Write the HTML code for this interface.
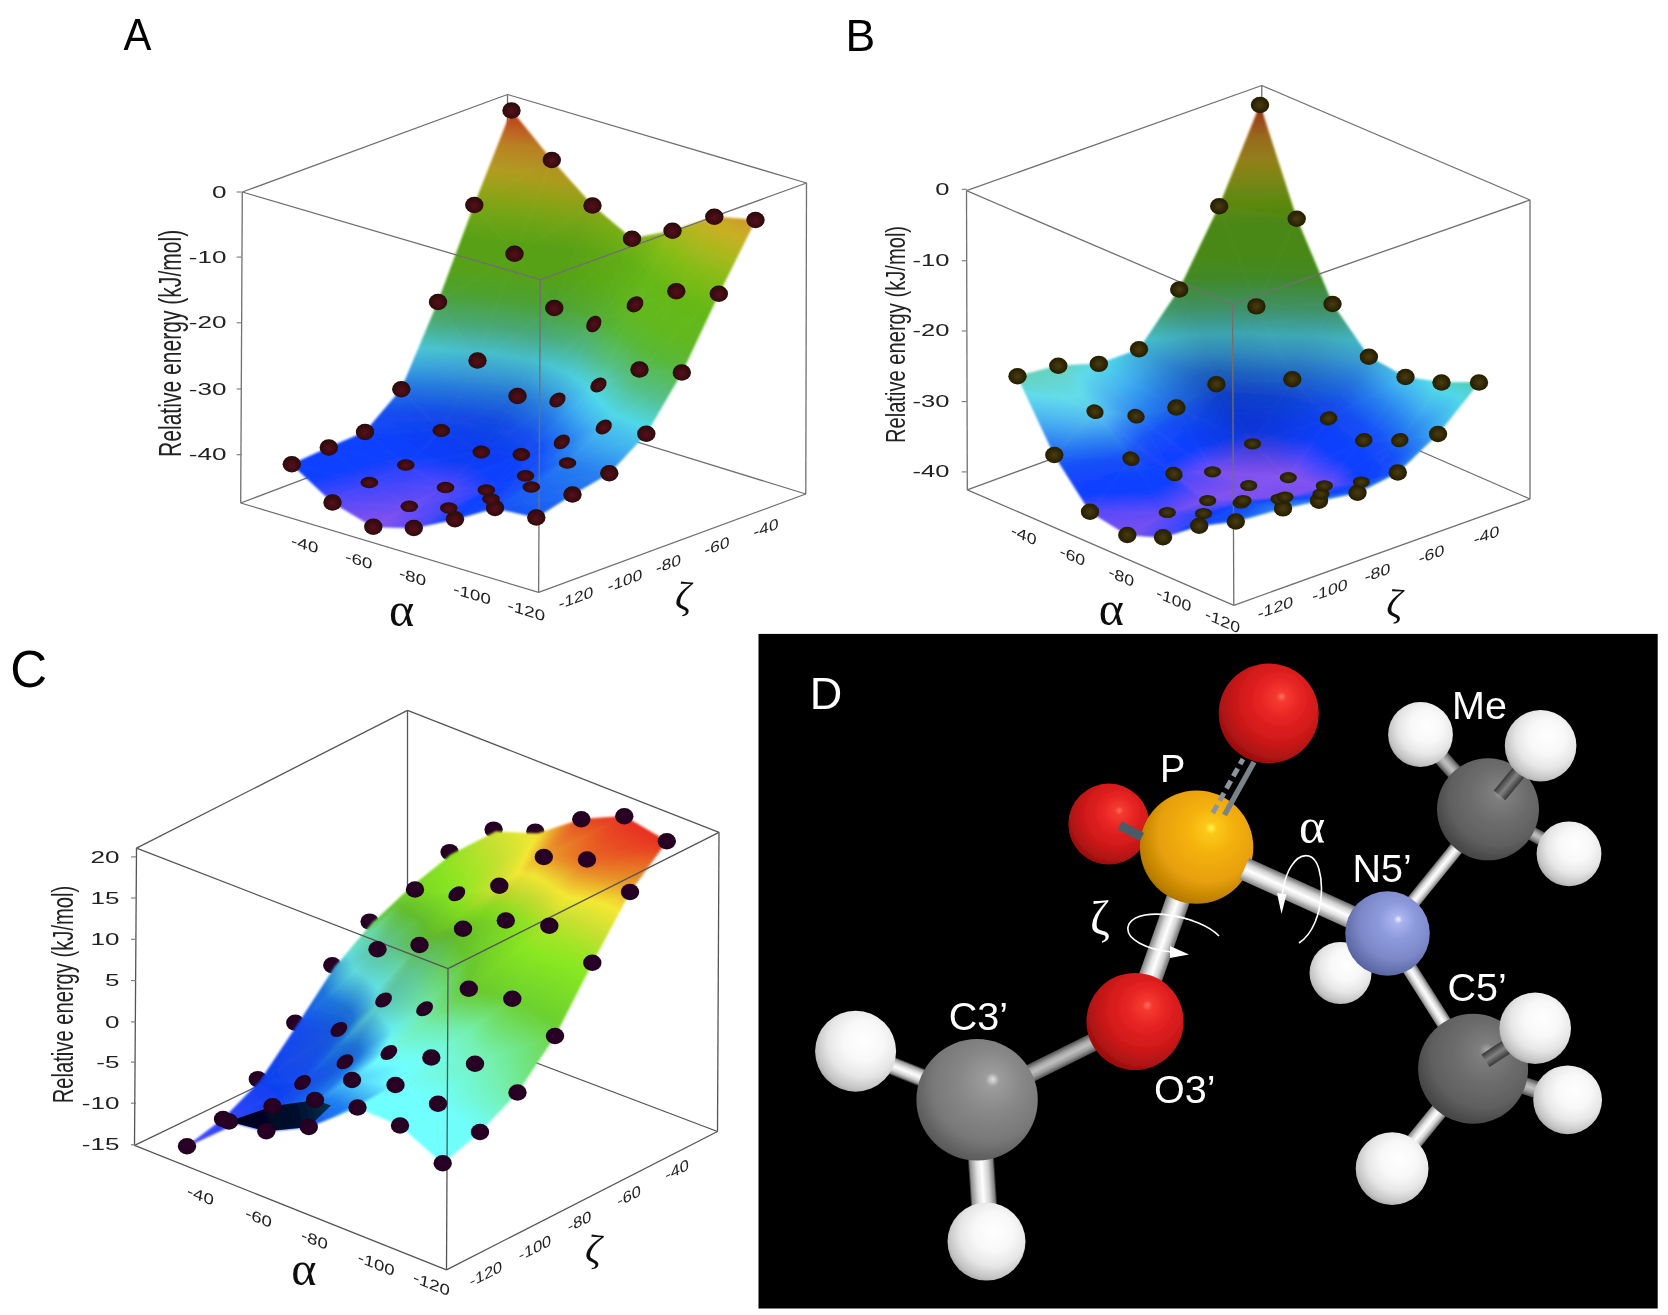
<!DOCTYPE html>
<html><head><meta charset="utf-8"><title>Figure</title>
<style>html,body{margin:0;padding:0;background:#fff}svg{display:block}</style></head><body>
<svg width="1668" height="1315" viewBox="0 0 1668 1315" font-family="&quot;Liberation Sans&quot;, sans-serif">
<defs>
<filter id="bl" x="-5%" y="-5%" width="110%" height="110%"><feGaussianBlur stdDeviation="1.0"/></filter>
<filter id="bl2" x="-5%" y="-5%" width="110%" height="110%"><feGaussianBlur stdDeviation="0.6"/></filter>
<filter id="bl3" x="-5%" y="-5%" width="110%" height="110%"><feGaussianBlur stdDeviation="0.9"/></filter>
<linearGradient id="stL"><stop offset="0" stop-color="#000" stop-opacity="1"/><stop offset="0.5" stop-color="#000" stop-opacity="0"/><stop offset="0.5" stop-color="#fff" stop-opacity="0"/><stop offset="1" stop-color="#fff" stop-opacity="1"/></linearGradient>
<radialGradient id="dA" cx="50%" cy="55%" r="60%"><stop offset="0" stop-color="#5a0a1e"/><stop offset="0.55" stop-color="#3a0810"/><stop offset="1" stop-color="#240606"/></radialGradient>
<radialGradient id="dB" cx="50%" cy="50%" r="60%"><stop offset="0" stop-color="#4a3c08"/><stop offset="0.6" stop-color="#2e2606"/><stop offset="1" stop-color="#1c1804"/></radialGradient>
<radialGradient id="dC" cx="50%" cy="50%" r="60%"><stop offset="0" stop-color="#2c0428"/><stop offset="1" stop-color="#22021e"/></radialGradient>
</defs>
<rect width="1668" height="1315" fill="#fff"/>
<g id="panelA">
<g filter="url(#bl2)"><line x1="242.3" y1="192.0" x2="507.5" y2="94.5" stroke="#707070" stroke-width="1.3"/>
<line x1="507.5" y1="94.5" x2="806.5" y2="183.0" stroke="#707070" stroke-width="1.3"/>
<line x1="507.5" y1="94.5" x2="507.5" y2="402.0" stroke="#707070" stroke-width="1.3"/>
<line x1="240.7" y1="503.0" x2="507.5" y2="402.0" stroke="#707070" stroke-width="1.3"/>
<line x1="507.5" y1="402.0" x2="805.8" y2="494.0" stroke="#707070" stroke-width="1.3"/>
<line x1="242.3" y1="192.0" x2="240.7" y2="503.0" stroke="#707070" stroke-width="1.3"/>
<line x1="806.5" y1="183.0" x2="805.8" y2="494.0" stroke="#707070" stroke-width="1.3"/></g>
<g filter="url(#bl)" stroke-width="0.7"><defs><linearGradient id="stA"><stop offset="0.0000" stop-color="#9058f0"/><stop offset="0.0350" stop-color="#7c50f0"/><stop offset="0.0750" stop-color="#4446fc"/><stop offset="0.1100" stop-color="#1040ff"/><stop offset="0.1400" stop-color="#1040ff"/><stop offset="0.2000" stop-color="#1450f8"/><stop offset="0.2600" stop-color="#2880f0"/><stop offset="0.3100" stop-color="#40b0f0"/><stop offset="0.3600" stop-color="#50d8e8"/><stop offset="0.4300" stop-color="#54c088"/><stop offset="0.5100" stop-color="#58b838"/><stop offset="0.5800" stop-color="#62b81c"/><stop offset="0.6600" stop-color="#66b818"/><stop offset="0.7300" stop-color="#84bc18"/><stop offset="0.7900" stop-color="#aab81c"/><stop offset="0.8400" stop-color="#c8b024"/><stop offset="0.9100" stop-color="#d09028"/><stop offset="1.0000" stop-color="#d83c20"/></linearGradient></defs><defs><linearGradient id="g1" href="#stA" gradientUnits="userSpaceOnUse" x1="481.5" y1="494.8" x2="524.1" y2="111.6"/>
<linearGradient id="g2" href="#stA" gradientUnits="userSpaceOnUse" x1="475.8" y1="493.5" x2="517.7" y2="111.0"/>
<linearGradient id="g3" href="#stA" gradientUnits="userSpaceOnUse" x1="458.6" y1="485.8" x2="495.9" y2="112.8"/>
<linearGradient id="g4" href="#stA" gradientUnits="userSpaceOnUse" x1="447.9" y1="489.2" x2="492.6" y2="108.8"/>
<linearGradient id="g5" href="#stA" gradientUnits="userSpaceOnUse" x1="528.4" y1="495.4" x2="568.3" y2="118.9"/>
<linearGradient id="g6" href="#stA" gradientUnits="userSpaceOnUse" x1="516.8" y1="499.9" x2="564.1" y2="116.0"/>
<linearGradient id="g7" href="#stA" gradientUnits="userSpaceOnUse" x1="430.3" y1="495.7" x2="469.4" y2="85.7"/>
<linearGradient id="g8" href="#stA" gradientUnits="userSpaceOnUse" x1="430.1" y1="487.9" x2="454.8" y2="103.0"/>
<linearGradient id="g9" href="#stA" gradientUnits="userSpaceOnUse" x1="493.2" y1="498.5" x2="556.4" y2="107.5"/>
<linearGradient id="g10" href="#stA" gradientUnits="userSpaceOnUse" x1="494.7" y1="490.2" x2="537.1" y2="116.6"/>
<linearGradient id="g11" href="#stA" gradientUnits="userSpaceOnUse" x1="529.4" y1="513.9" x2="642.2" y2="119.6"/>
<linearGradient id="g12" href="#stA" gradientUnits="userSpaceOnUse" x1="544.6" y1="502.2" x2="617.4" y2="123.6"/>
<linearGradient id="g13" href="#stA" gradientUnits="userSpaceOnUse" x1="404.8" y1="513.9" x2="399.1" y2="-4.5"/>
<linearGradient id="g14" href="#stA" gradientUnits="userSpaceOnUse" x1="403.6" y1="504.8" x2="398.0" y2="43.5"/>
<linearGradient id="g15" href="#stA" gradientUnits="userSpaceOnUse" x1="463.0" y1="510.8" x2="554.9" y2="55.0"/>
<linearGradient id="g16" href="#stA" gradientUnits="userSpaceOnUse" x1="465.4" y1="500.8" x2="517.9" y2="87.3"/>
<linearGradient id="g17" href="#stA" gradientUnits="userSpaceOnUse" x1="499.7" y1="511.4" x2="661.9" y2="115.2"/>
<linearGradient id="g18" href="#stA" gradientUnits="userSpaceOnUse" x1="508.5" y1="505.0" x2="620.3" y2="116.3"/>
<linearGradient id="g19" href="#stA" gradientUnits="userSpaceOnUse" x1="455.6" y1="475.6" x2="743.6" y2="169.8"/>
<linearGradient id="g20" href="#stA" gradientUnits="userSpaceOnUse" x1="500.6" y1="502.8" x2="700.8" y2="141.8"/>
<linearGradient id="g21" href="#stA" gradientUnits="userSpaceOnUse" x1="385.3" y1="531.1" x2="227.0" y2="-71.7"/>
<linearGradient id="g22" href="#stA" gradientUnits="userSpaceOnUse" x1="393.7" y1="535.5" x2="192.8" y2="-110.1"/>
<linearGradient id="g23" href="#stA" gradientUnits="userSpaceOnUse" x1="438.1" y1="522.6" x2="501.6" y2="-43.5"/>
<linearGradient id="g24" href="#stA" gradientUnits="userSpaceOnUse" x1="433.8" y1="523.9" x2="503.6" y2="-56.9"/>
<linearGradient id="g25" href="#stA" gradientUnits="userSpaceOnUse" x1="475.3" y1="523.5" x2="703.9" y2="73.5"/>
<linearGradient id="g26" href="#stA" gradientUnits="userSpaceOnUse" x1="470.9" y1="519.0" x2="679.5" y2="70.3"/>
<linearGradient id="g27" href="#stA" gradientUnits="userSpaceOnUse" x1="498.2" y1="505.4" x2="733.4" y2="166.6"/>
<linearGradient id="g28" href="#stA" gradientUnits="userSpaceOnUse" x1="471.7" y1="485.2" x2="742.7" y2="173.2"/>
<linearGradient id="g29" href="#stA" gradientUnits="userSpaceOnUse" x1="497.5" y1="518.7" x2="748.8" y2="168.1"/>
<linearGradient id="g30" href="#stA" gradientUnits="userSpaceOnUse" x1="483.9" y1="509.3" x2="739.6" y2="161.3"/>
<linearGradient id="g31" href="#stA" gradientUnits="userSpaceOnUse" x1="343.1" y1="536.3" x2="218.7" y2="-20.5"/>
<linearGradient id="g32" href="#stA" gradientUnits="userSpaceOnUse" x1="351.0" y1="541.0" x2="183.5" y2="-64.9"/>
<linearGradient id="g33" href="#stA" gradientUnits="userSpaceOnUse" x1="415.5" y1="544.0" x2="298.5" y2="-269.9"/>
<linearGradient id="g34" href="#stA" gradientUnits="userSpaceOnUse" x1="418.9" y1="550.1" x2="267.7" y2="-350.9"/>
<linearGradient id="g35" href="#stA" gradientUnits="userSpaceOnUse" x1="438.3" y1="538.4" x2="869.8" y2="-34.0"/>
<linearGradient id="g36" href="#stA" gradientUnits="userSpaceOnUse" x1="429.0" y1="532.6" x2="879.4" y2="-36.9"/>
<linearGradient id="g37" href="#stA" gradientUnits="userSpaceOnUse" x1="468.4" y1="513.2" x2="820.9" y2="183.9"/>
<linearGradient id="g38" href="#stA" gradientUnits="userSpaceOnUse" x1="453.2" y1="494.7" x2="834.4" y2="201.3"/>
<linearGradient id="g39" href="#stA" gradientUnits="userSpaceOnUse" x1="513.4" y1="518.4" x2="760.3" y2="182.2"/>
<linearGradient id="g40" href="#stA" gradientUnits="userSpaceOnUse" x1="513.9" y1="517.3" x2="738.6" y2="168.6"/>
<linearGradient id="g41" href="#stA" gradientUnits="userSpaceOnUse" x1="594.0" y1="571.5" x2="756.9" y2="169.6"/>
<linearGradient id="g42" href="#stA" gradientUnits="userSpaceOnUse" x1="581.7" y1="567.4" x2="747.2" y2="165.3"/>
<linearGradient id="g43" href="#stA" gradientUnits="userSpaceOnUse" x1="375.2" y1="545.6" x2="295.2" y2="-215.6"/>
<linearGradient id="g44" href="#stA" gradientUnits="userSpaceOnUse" x1="375.8" y1="546.7" x2="289.9" y2="-236.3"/>
<linearGradient id="g45" href="#stA" gradientUnits="userSpaceOnUse" x1="409.3" y1="456.9" x2="936.7" y2="1060.9"/>
<linearGradient id="g46" href="#stA" gradientUnits="userSpaceOnUse" x1="388.0" y1="450.6" x2="1259.1" y2="1100.0"/>
<linearGradient id="g47" href="#stA" gradientUnits="userSpaceOnUse" x1="457.5" y1="450.8" x2="848.1" y2="558.0"/>
<linearGradient id="g48" href="#stA" gradientUnits="userSpaceOnUse" x1="437.8" y1="462.8" x2="949.6" y2="458.7"/>
<linearGradient id="g49" href="#stA" gradientUnits="userSpaceOnUse" x1="482.6" y1="525.2" x2="826.9" y2="200.0"/>
<linearGradient id="g50" href="#stA" gradientUnits="userSpaceOnUse" x1="466.7" y1="506.4" x2="834.2" y2="209.6"/>
<linearGradient id="g51" href="#stA" gradientUnits="userSpaceOnUse" x1="594.2" y1="564.0" x2="748.9" y2="169.8"/>
<linearGradient id="g52" href="#stA" gradientUnits="userSpaceOnUse" x1="582.3" y1="559.8" x2="738.8" y2="165.5"/>
<linearGradient id="g53" href="#stA" gradientUnits="userSpaceOnUse" x1="364.3" y1="493.2" x2="1228.6" y2="997.2"/>
<linearGradient id="g54" href="#stA" gradientUnits="userSpaceOnUse" x1="362.5" y1="489.8" x2="1312.9" y2="963.7"/>
<linearGradient id="g55" href="#stA" gradientUnits="userSpaceOnUse" x1="446.5" y1="460.1" x2="755.6" y2="712.3"/>
<linearGradient id="g56" href="#stA" gradientUnits="userSpaceOnUse" x1="483.7" y1="485.0" x2="510.4" y2="537.9"/>
<linearGradient id="g57" href="#stA" gradientUnits="userSpaceOnUse" x1="429.9" y1="460.1" x2="962.3" y2="441.0"/>
<linearGradient id="g58" href="#stA" gradientUnits="userSpaceOnUse" x1="455.8" y1="425.1" x2="887.8" y2="517.6"/>
<linearGradient id="g59" href="#stA" gradientUnits="userSpaceOnUse" x1="581.1" y1="581.4" x2="742.1" y2="145.3"/>
<linearGradient id="g60" href="#stA" gradientUnits="userSpaceOnUse" x1="556.5" y1="580.4" x2="754.4" y2="137.4"/>
<linearGradient id="g61" href="#stA" gradientUnits="userSpaceOnUse" x1="434.9" y1="491.4" x2="599.4" y2="706.8"/>
<linearGradient id="g62" href="#stA" gradientUnits="userSpaceOnUse" x1="435.0" y1="490.7" x2="603.5" y2="708.9"/>
<linearGradient id="g63" href="#stA" gradientUnits="userSpaceOnUse" x1="491.9" y1="444.6" x2="672.8" y2="627.3"/>
<linearGradient id="g64" href="#stA" gradientUnits="userSpaceOnUse" x1="492.9" y1="443.8" x2="673.1" y2="626.1"/>
<linearGradient id="g65" href="#stA" gradientUnits="userSpaceOnUse" x1="549.0" y1="622.8" x2="751.5" y2="49.5"/>
<linearGradient id="g66" href="#stA" gradientUnits="userSpaceOnUse" x1="514.0" y1="632.7" x2="809.5" y2="16.9"/>
<linearGradient id="g67" href="#stA" gradientUnits="userSpaceOnUse" x1="472.6" y1="475.9" x2="587.2" y2="632.3"/>
<linearGradient id="g68" href="#stA" gradientUnits="userSpaceOnUse" x1="476.9" y1="478.9" x2="570.1" y2="615.8"/>
<linearGradient id="g69" href="#stA" gradientUnits="userSpaceOnUse" x1="235.6" y1="750.6" x2="1612.1" y2="-339.7"/>
<linearGradient id="g70" href="#stA" gradientUnits="userSpaceOnUse" x1="454.4" y1="729.6" x2="915.4" y2="-293.9"/>
<linearGradient id="g71" href="#stA" gradientUnits="userSpaceOnUse" x1="397.2" y1="749.4" x2="1027.4" y2="-363.7"/>
<linearGradient id="g72" href="#stA" gradientUnits="userSpaceOnUse" x1="217.8" y1="738.7" x2="1632.9" y2="-349.1"/></defs>
<path d="M474.3 205.0L514.5 253.8L551.8 160.0z" fill="url(#g1)" stroke="url(#g1)"/>
<path d="M474.3 205.0L551.8 160.0L511.5 110.5z" fill="url(#g2)" stroke="url(#g2)"/>
<path d="M438.0 302.0L477.5 360.5L514.5 253.8z" fill="url(#g3)" stroke="url(#g3)"/>
<path d="M438.0 302.0L514.5 253.8L474.3 205.0z" fill="url(#g4)" stroke="url(#g4)"/>
<path d="M514.5 253.8L554.3 308.0L592.5 205.5z" fill="url(#g5)" stroke="url(#g5)"/>
<path d="M514.5 253.8L592.5 205.5L551.8 160.0z" fill="url(#g6)" stroke="url(#g6)"/>
<path d="M401.3 389.3L441.3 430.5L477.5 360.5z" fill="url(#g7)" stroke="url(#g7)"/>
<path d="M401.3 389.3L477.5 360.5L438.0 302.0z" fill="url(#g8)" stroke="url(#g8)"/>
<path d="M477.5 360.5L517.5 396.0L554.3 308.0z" fill="url(#g9)" stroke="url(#g9)"/>
<path d="M477.5 360.5L554.3 308.0L514.5 253.8z" fill="url(#g10)" stroke="url(#g10)"/>
<path d="M554.3 308.0L593.8 324.0L632.0 238.8z" fill="url(#g11)" stroke="url(#g11)"/>
<path d="M554.3 308.0L632.0 238.8L592.5 205.5z" fill="url(#g12)" stroke="url(#g12)"/>
<path d="M365.0 432.0L405.8 465.0L441.3 430.5z" fill="url(#g13)" stroke="url(#g13)"/>
<path d="M365.0 432.0L441.3 430.5L401.3 389.3z" fill="url(#g14)" stroke="url(#g14)"/>
<path d="M441.3 430.5L481.3 452.0L517.5 396.0z" fill="url(#g15)" stroke="url(#g15)"/>
<path d="M441.3 430.5L517.5 396.0L477.5 360.5z" fill="url(#g16)" stroke="url(#g16)"/>
<path d="M517.5 396.0L557.5 400.0L593.8 324.0z" fill="url(#g17)" stroke="url(#g17)"/>
<path d="M517.5 396.0L593.8 324.0L554.3 308.0z" fill="url(#g18)" stroke="url(#g18)"/>
<path d="M593.8 324.0L635.0 304.3L672.5 230.8z" fill="url(#g19)" stroke="url(#g19)"/>
<path d="M593.8 324.0L672.5 230.8L632.0 238.8z" fill="url(#g20)" stroke="url(#g20)"/>
<path d="M328.8 447.5L369.3 482.5L405.8 465.0z" fill="url(#g21)" stroke="url(#g21)"/>
<path d="M328.8 447.5L405.8 465.0L365.0 432.0z" fill="url(#g22)" stroke="url(#g22)"/>
<path d="M405.8 465.0L445.5 487.5L481.3 452.0z" fill="url(#g23)" stroke="url(#g23)"/>
<path d="M405.8 465.0L481.3 452.0L441.3 430.5z" fill="url(#g24)" stroke="url(#g24)"/>
<path d="M481.3 452.0L521.3 454.5L557.5 400.0z" fill="url(#g25)" stroke="url(#g25)"/>
<path d="M481.3 452.0L557.5 400.0L517.5 396.0z" fill="url(#g26)" stroke="url(#g26)"/>
<path d="M557.5 400.0L598.5 385.0L635.0 304.3z" fill="url(#g27)" stroke="url(#g27)"/>
<path d="M557.5 400.0L635.0 304.3L593.8 324.0z" fill="url(#g28)" stroke="url(#g28)"/>
<path d="M635.0 304.3L676.3 291.3L714.3 216.8z" fill="url(#g29)" stroke="url(#g29)"/>
<path d="M635.0 304.3L714.3 216.8L672.5 230.8z" fill="url(#g30)" stroke="url(#g30)"/>
<path d="M291.8 464.3L332.5 502.5L369.3 482.5z" fill="url(#g31)" stroke="url(#g31)"/>
<path d="M291.8 464.3L369.3 482.5L328.8 447.5z" fill="url(#g32)" stroke="url(#g32)"/>
<path d="M369.3 482.5L409.3 506.3L445.5 487.5z" fill="url(#g33)" stroke="url(#g33)"/>
<path d="M369.3 482.5L445.5 487.5L405.8 465.0z" fill="url(#g34)" stroke="url(#g34)"/>
<path d="M445.5 487.5L486.3 490.0L521.3 454.5z" fill="url(#g35)" stroke="url(#g35)"/>
<path d="M445.5 487.5L521.3 454.5L481.3 452.0z" fill="url(#g36)" stroke="url(#g36)"/>
<path d="M521.3 454.5L561.8 441.8L598.5 385.0z" fill="url(#g37)" stroke="url(#g37)"/>
<path d="M521.3 454.5L598.5 385.0L557.5 400.0z" fill="url(#g38)" stroke="url(#g38)"/>
<path d="M598.5 385.0L639.5 369.5L676.3 291.3z" fill="url(#g39)" stroke="url(#g39)"/>
<path d="M598.5 385.0L676.3 291.3L635.0 304.3z" fill="url(#g40)" stroke="url(#g40)"/>
<path d="M676.3 291.3L718.8 293.8L755.5 220.0z" fill="url(#g41)" stroke="url(#g41)"/>
<path d="M676.3 291.3L755.5 220.0L714.3 216.8z" fill="url(#g42)" stroke="url(#g42)"/>
<path d="M332.5 502.5L373.3 526.8L409.3 506.3z" fill="url(#g43)" stroke="url(#g43)"/>
<path d="M332.5 502.5L409.3 506.3L369.3 482.5z" fill="url(#g44)" stroke="url(#g44)"/>
<path d="M409.3 506.3L448.8 508.0L486.3 490.0z" fill="url(#g45)" stroke="url(#g45)"/>
<path d="M409.3 506.3L486.3 490.0L445.5 487.5z" fill="url(#g46)" stroke="url(#g46)"/>
<path d="M486.3 490.0L525.5 475.8L561.8 441.8z" fill="url(#g47)" stroke="url(#g47)"/>
<path d="M486.3 490.0L561.8 441.8L521.3 454.5z" fill="url(#g48)" stroke="url(#g48)"/>
<path d="M561.8 441.8L603.8 427.0L639.5 369.5z" fill="url(#g49)" stroke="url(#g49)"/>
<path d="M561.8 441.8L639.5 369.5L598.5 385.0z" fill="url(#g50)" stroke="url(#g50)"/>
<path d="M639.5 369.5L681.8 372.5L718.8 293.8z" fill="url(#g51)" stroke="url(#g51)"/>
<path d="M639.5 369.5L718.8 293.8L676.3 291.3z" fill="url(#g52)" stroke="url(#g52)"/>
<path d="M373.3 526.8L413.8 528.0L448.8 508.0z" fill="url(#g53)" stroke="url(#g53)"/>
<path d="M373.3 526.8L448.8 508.0L409.3 506.3z" fill="url(#g54)" stroke="url(#g54)"/>
<path d="M448.8 508.0L491.0 499.0L525.5 475.8z" fill="url(#g55)" stroke="url(#g55)"/>
<path d="M448.8 508.0L525.5 475.8L486.3 490.0z" fill="url(#g56)" stroke="url(#g56)"/>
<path d="M525.5 475.8L567.5 463.0L603.8 427.0z" fill="url(#g57)" stroke="url(#g57)"/>
<path d="M525.5 475.8L603.8 427.0L561.8 441.8z" fill="url(#g58)" stroke="url(#g58)"/>
<path d="M603.8 427.0L646.3 433.8L681.8 372.5z" fill="url(#g59)" stroke="url(#g59)"/>
<path d="M603.8 427.0L681.8 372.5L639.5 369.5z" fill="url(#g60)" stroke="url(#g60)"/>
<path d="M413.8 528.0L455.0 519.3L491.0 499.0z" fill="url(#g61)" stroke="url(#g61)"/>
<path d="M413.8 528.0L491.0 499.0L448.8 508.0z" fill="url(#g62)" stroke="url(#g62)"/>
<path d="M491.0 499.0L531.3 487.0L567.5 463.0z" fill="url(#g63)" stroke="url(#g63)"/>
<path d="M491.0 499.0L567.5 463.0L525.5 475.8z" fill="url(#g64)" stroke="url(#g64)"/>
<path d="M567.5 463.0L609.3 473.3L646.3 433.8z" fill="url(#g65)" stroke="url(#g65)"/>
<path d="M567.5 463.0L646.3 433.8L603.8 427.0z" fill="url(#g66)" stroke="url(#g66)"/>
<path d="M455.0 519.3L495.0 508.0L531.3 487.0z" fill="url(#g67)" stroke="url(#g67)"/>
<path d="M455.0 519.3L531.3 487.0L491.0 499.0z" fill="url(#g68)" stroke="url(#g68)"/>
<path d="M531.3 487.0L572.5 494.5L609.3 473.3z" fill="url(#g69)" stroke="url(#g69)"/>
<path d="M531.3 487.0L609.3 473.3L567.5 463.0z" fill="url(#g70)" stroke="url(#g70)"/>
<path d="M495.0 508.0L536.3 517.5L572.5 494.5z" fill="url(#g71)" stroke="url(#g71)"/>
<path d="M495.0 508.0L572.5 494.5L531.3 487.0z" fill="url(#g72)" stroke="url(#g72)"/>
<defs><linearGradient id="g73" href="#stL" gradientUnits="userSpaceOnUse" x1="1916.0" y1="2575.5" x2="-1249.7" y2="-2876.4"/>
<linearGradient id="g74" href="#stL" gradientUnits="userSpaceOnUse" x1="1262.2" y1="-404.8" x2="-525.1" y2="1330.5"/>
<linearGradient id="g75" href="#stL" gradientUnits="userSpaceOnUse" x1="1424.4" y1="-314.8" x2="-765.5" y2="1163.8"/>
<linearGradient id="g76" href="#stL" gradientUnits="userSpaceOnUse" x1="-2.5" y1="23.1" x2="1292.9" y2="603.9"/>
<linearGradient id="g77" href="#stL" gradientUnits="userSpaceOnUse" x1="-90.8" y1="-4.0" x2="1428.6" y2="562.2"/>
<linearGradient id="g78" href="#stL" gradientUnits="userSpaceOnUse" x1="908.9" y1="-181.7" x2="-121.4" y2="1092.1"/>
<linearGradient id="g79" href="#stL" gradientUnits="userSpaceOnUse" x1="1043.0" y1="-204.5" x2="-291.3" y2="1090.9"/>
<linearGradient id="g80" href="#stL" gradientUnits="userSpaceOnUse" x1="962.5" y1="-471.5" x2="-86.4" y2="1480.0"/>
<linearGradient id="g81" href="#stL" gradientUnits="userSpaceOnUse" x1="1239.3" y1="-461.3" x2="-450.8" y2="1443.0"/>
<linearGradient id="g82" href="#stL" gradientUnits="userSpaceOnUse" x1="33.0" y1="123.4" x2="1170.5" y2="666.7"/>
<linearGradient id="g83" href="#stL" gradientUnits="userSpaceOnUse" x1="-34.5" y1="96.1" x2="1276.0" y2="644.1"/>
<linearGradient id="g84" href="#stL" gradientUnits="userSpaceOnUse" x1="230.1" y1="80.4" x2="1053.9" y2="500.7"/>
<linearGradient id="g85" href="#stL" gradientUnits="userSpaceOnUse" x1="141.0" y1="44.1" x2="1165.5" y2="503.4"/>
<linearGradient id="g86" href="#stL" gradientUnits="userSpaceOnUse" x1="835.1" y1="-221.5" x2="37.4" y2="1186.0"/>
<linearGradient id="g87" href="#stL" gradientUnits="userSpaceOnUse" x1="800.3" y1="-216.0" x2="55.5" y2="1169.7"/>
<linearGradient id="g88" href="#stL" gradientUnits="userSpaceOnUse" x1="80.7" y1="-208.3" x2="1005.6" y2="1147.0"/>
<linearGradient id="g89" href="#stL" gradientUnits="userSpaceOnUse" x1="295.3" y1="88.6" x2="781.1" y2="800.4"/>
<linearGradient id="g90" href="#stL" gradientUnits="userSpaceOnUse" x1="133.1" y1="153.3" x2="1079.9" y2="581.5"/>
<linearGradient id="g91" href="#stL" gradientUnits="userSpaceOnUse" x1="181.3" y1="144.9" x2="1044.1" y2="557.1"/>
<linearGradient id="g92" href="#stL" gradientUnits="userSpaceOnUse" x1="560.2" y1="-760.3" x2="407.0" y2="1740.0"/>
<linearGradient id="g93" href="#stL" gradientUnits="userSpaceOnUse" x1="378.9" y1="70.5" x2="592.9" y2="883.2"/>
<linearGradient id="g94" href="#stL" gradientUnits="userSpaceOnUse" x1="-191.3" y1="-58.7" x2="1327.6" y2="922.7"/>
<linearGradient id="g95" href="#stL" gradientUnits="userSpaceOnUse" x1="318.9" y1="193.5" x2="814.1" y2="646.4"/>
<linearGradient id="g96" href="#stL" gradientUnits="userSpaceOnUse" x1="326.2" y1="153.7" x2="724.0" y2="776.8"/></defs>
<path d="M474.3 205.0L514.5 253.8L551.8 160.0z" fill="#000" fill-opacity="0.120" stroke="none"/>
<path d="M474.3 205.0L551.8 160.0L511.5 110.5z" fill="url(#g73)" stroke-width="0" stroke="url(#g73)"/>
<path d="M438.0 302.0L477.5 360.5L514.5 253.8z" fill="#000" fill-opacity="0.120" stroke="none"/>
<path d="M438.0 302.0L514.5 253.8L474.3 205.0z" fill="#000" fill-opacity="0.120" stroke="none"/>
<path d="M514.5 253.8L554.3 308.0L592.5 205.5z" fill="#000" fill-opacity="0.120" stroke="none"/>
<path d="M514.5 253.8L592.5 205.5L551.8 160.0z" fill="#000" fill-opacity="0.120" stroke="none"/>
<path d="M401.3 389.3L441.3 430.5L477.5 360.5z" fill="url(#g74)" stroke-width="0" stroke="url(#g74)"/>
<path d="M401.3 389.3L477.5 360.5L438.0 302.0z" fill="url(#g75)" stroke-width="0" stroke="url(#g75)"/>
<path d="M477.5 360.5L517.5 396.0L554.3 308.0z" fill="#000" fill-opacity="0.120" stroke="none"/>
<path d="M477.5 360.5L554.3 308.0L514.5 253.8z" fill="#000" fill-opacity="0.120" stroke="none"/>
<path d="M554.3 308.0L593.8 324.0L632.0 238.8z" fill="url(#g76)" stroke-width="0" stroke="url(#g76)"/>
<path d="M554.3 308.0L632.0 238.8L592.5 205.5z" fill="url(#g77)" stroke-width="0" stroke="url(#g77)"/>
<path d="M365.0 432.0L405.8 465.0L441.3 430.5z" fill="url(#g78)" stroke-width="0" stroke="url(#g78)"/>
<path d="M365.0 432.0L441.3 430.5L401.3 389.3z" fill="url(#g79)" stroke-width="0" stroke="url(#g79)"/>
<path d="M441.3 430.5L481.3 452.0L517.5 396.0z" fill="url(#g80)" stroke-width="0" stroke="url(#g80)"/>
<path d="M441.3 430.5L517.5 396.0L477.5 360.5z" fill="url(#g81)" stroke-width="0" stroke="url(#g81)"/>
<path d="M517.5 396.0L557.5 400.0L593.8 324.0z" fill="url(#g82)" stroke-width="0" stroke="url(#g82)"/>
<path d="M517.5 396.0L593.8 324.0L554.3 308.0z" fill="url(#g83)" stroke-width="0" stroke="url(#g83)"/>
<path d="M593.8 324.0L635.0 304.3L672.5 230.8z" fill="url(#g84)" stroke-width="0" stroke="url(#g84)"/>
<path d="M593.8 324.0L672.5 230.8L632.0 238.8z" fill="url(#g85)" stroke-width="0" stroke="url(#g85)"/>
<path d="M405.8 465.0L445.5 487.5L481.3 452.0z" fill="url(#g86)" stroke-width="0" stroke="url(#g86)"/>
<path d="M405.8 465.0L481.3 452.0L441.3 430.5z" fill="url(#g87)" stroke-width="0" stroke="url(#g87)"/>
<path d="M481.3 452.0L521.3 454.5L557.5 400.0z" fill="url(#g88)" stroke-width="0" stroke="url(#g88)"/>
<path d="M481.3 452.0L557.5 400.0L517.5 396.0z" fill="url(#g89)" stroke-width="0" stroke="url(#g89)"/>
<path d="M557.5 400.0L598.5 385.0L635.0 304.3z" fill="url(#g90)" stroke-width="0" stroke="url(#g90)"/>
<path d="M557.5 400.0L635.0 304.3L593.8 324.0z" fill="url(#g91)" stroke-width="0" stroke="url(#g91)"/>
<path d="M445.5 487.5L486.3 490.0L521.3 454.5z" fill="url(#g92)" stroke-width="0" stroke="url(#g92)"/>
<path d="M445.5 487.5L521.3 454.5L481.3 452.0z" fill="url(#g93)" stroke-width="0" stroke="url(#g93)"/>
<path d="M521.3 454.5L561.8 441.8L598.5 385.0z" fill="url(#g94)" stroke-width="0" stroke="url(#g94)"/>
<path d="M521.3 454.5L598.5 385.0L557.5 400.0z" fill="url(#g95)" stroke-width="0" stroke="url(#g95)"/>
<path d="M486.3 490.0L561.8 441.8L521.3 454.5z" fill="url(#g96)" stroke-width="0" stroke="url(#g96)"/></g>
<g filter="url(#bl2)"><line x1="242.3" y1="192.0" x2="540.3" y2="279.6" stroke="#707070" stroke-width="1.3"/>
<line x1="540.3" y1="279.6" x2="806.5" y2="183.0" stroke="#707070" stroke-width="1.3"/>
<line x1="540.3" y1="279.6" x2="538.6" y2="592.4" stroke="#707070" stroke-width="1.3"/>
<line x1="240.7" y1="503.0" x2="538.6" y2="592.4" stroke="#707070" stroke-width="1.3"/>
<line x1="538.6" y1="592.4" x2="805.8" y2="494.0" stroke="#707070" stroke-width="1.3"/></g>
<g filter="url(#bl2)"><ellipse cx="291.8" cy="464.3" rx="9.2" ry="8.2" fill="url(#dA)"/>
<ellipse cx="332.5" cy="502.5" rx="9.2" ry="8.2" fill="url(#dA)"/>
<ellipse cx="373.3" cy="526.8" rx="9.2" ry="8.2" fill="url(#dA)"/>
<ellipse cx="413.8" cy="528.0" rx="9.2" ry="8.2" fill="url(#dA)"/>
<ellipse cx="455.0" cy="519.3" rx="9.2" ry="8.2" fill="url(#dA)"/>
<ellipse cx="495.0" cy="508.0" rx="9.2" ry="8.2" fill="url(#dA)"/>
<ellipse cx="536.3" cy="517.5" rx="9.2" ry="8.2" fill="url(#dA)"/>
<ellipse cx="328.8" cy="447.5" rx="9.2" ry="8.2" fill="url(#dA)"/>
<ellipse transform="translate(369.3 482.5) rotate(0)" rx="8.8" ry="5.8" fill="url(#dA)"/>
<ellipse transform="translate(409.3 506.3) rotate(0)" rx="8.8" ry="5.8" fill="url(#dA)"/>
<ellipse transform="translate(448.8 508.0) rotate(0)" rx="8.8" ry="5.8" fill="url(#dA)"/>
<ellipse transform="translate(491.0 499.0) rotate(0)" rx="8.8" ry="5.8" fill="url(#dA)"/>
<ellipse transform="translate(531.3 487.0) rotate(0)" rx="8.8" ry="5.8" fill="url(#dA)"/>
<ellipse cx="572.5" cy="494.5" rx="9.2" ry="8.2" fill="url(#dA)"/>
<ellipse cx="365.0" cy="432.0" rx="9.2" ry="8.2" fill="url(#dA)"/>
<ellipse transform="translate(405.8 465.0) rotate(0)" rx="8.8" ry="5.8" fill="url(#dA)"/>
<ellipse transform="translate(445.5 487.5) rotate(0)" rx="8.8" ry="5.8" fill="url(#dA)"/>
<ellipse transform="translate(486.3 490.0) rotate(0)" rx="8.8" ry="5.8" fill="url(#dA)"/>
<ellipse transform="translate(525.5 475.8) rotate(0)" rx="8.8" ry="5.8" fill="url(#dA)"/>
<ellipse transform="translate(567.5 463.0) rotate(0)" rx="8.8" ry="5.8" fill="url(#dA)"/>
<ellipse cx="609.3" cy="473.3" rx="9.2" ry="8.2" fill="url(#dA)"/>
<ellipse cx="401.3" cy="389.3" rx="9.2" ry="8.2" fill="url(#dA)"/>
<ellipse transform="translate(441.3 430.5) rotate(0)" rx="8.8" ry="6.4" fill="url(#dA)"/>
<ellipse transform="translate(481.3 452.0) rotate(0)" rx="8.8" ry="6.4" fill="url(#dA)"/>
<ellipse transform="translate(521.3 454.5) rotate(0)" rx="8.8" ry="6.4" fill="url(#dA)"/>
<ellipse transform="translate(561.8 441.8) rotate(-35)" rx="8.8" ry="6.6" fill="url(#dA)"/>
<ellipse transform="translate(603.8 427.0) rotate(-35)" rx="8.8" ry="6.6" fill="url(#dA)"/>
<ellipse cx="646.3" cy="433.8" rx="9.2" ry="8.2" fill="url(#dA)"/>
<ellipse cx="438.0" cy="302.0" rx="9.2" ry="8.2" fill="url(#dA)"/>
<ellipse cx="477.5" cy="360.5" rx="9.2" ry="8.2" fill="url(#dA)"/>
<ellipse cx="517.5" cy="396.0" rx="9.2" ry="8.2" fill="url(#dA)"/>
<ellipse transform="translate(557.5 400.0) rotate(-35)" rx="8.8" ry="6.6" fill="url(#dA)"/>
<ellipse transform="translate(598.5 385.0) rotate(-35)" rx="8.8" ry="6.6" fill="url(#dA)"/>
<ellipse cx="639.5" cy="369.5" rx="9.2" ry="8.2" fill="url(#dA)"/>
<ellipse cx="681.8" cy="372.5" rx="9.2" ry="8.2" fill="url(#dA)"/>
<ellipse cx="474.3" cy="205.0" rx="9.2" ry="8.2" fill="url(#dA)"/>
<ellipse cx="514.5" cy="253.8" rx="9.2" ry="8.2" fill="url(#dA)"/>
<ellipse cx="554.3" cy="308.0" rx="9.2" ry="8.2" fill="url(#dA)"/>
<ellipse transform="translate(593.8 324.0) rotate(-55)" rx="9" ry="6.8" fill="url(#dA)"/>
<ellipse transform="translate(635.0 304.3) rotate(-40)" rx="9" ry="7.4" fill="url(#dA)"/>
<ellipse cx="676.3" cy="291.3" rx="9.2" ry="8.2" fill="url(#dA)"/>
<ellipse cx="718.8" cy="293.8" rx="9.2" ry="8.2" fill="url(#dA)"/>
<ellipse cx="511.5" cy="110.5" rx="9.2" ry="8.2" fill="url(#dA)"/>
<ellipse cx="551.8" cy="160.0" rx="9.2" ry="8.2" fill="url(#dA)"/>
<ellipse cx="592.5" cy="205.5" rx="9.2" ry="8.2" fill="url(#dA)"/>
<ellipse cx="632.0" cy="238.8" rx="9.2" ry="8.2" fill="url(#dA)"/>
<ellipse cx="672.5" cy="230.8" rx="9.2" ry="8.2" fill="url(#dA)"/>
<ellipse cx="714.3" cy="216.8" rx="9.2" ry="8.2" fill="url(#dA)"/>
<ellipse cx="755.5" cy="220.0" rx="9.2" ry="8.2" fill="url(#dA)"/></g>
</g>
<g id="panelB">
<g filter="url(#bl2)"><line x1="966.5" y1="190.7" x2="1261.8" y2="85.5" stroke="#707070" stroke-width="1.3"/>
<line x1="1261.8" y1="85.5" x2="1530.0" y2="200.0" stroke="#707070" stroke-width="1.3"/>
<line x1="1261.8" y1="85.5" x2="1262.0" y2="382.0" stroke="#707070" stroke-width="1.3"/>
<line x1="967.3" y1="489.8" x2="1262.0" y2="382.0" stroke="#707070" stroke-width="1.3"/>
<line x1="1262.0" y1="382.0" x2="1530.0" y2="499.0" stroke="#707070" stroke-width="1.3"/>
<line x1="966.5" y1="190.7" x2="967.3" y2="489.8" stroke="#707070" stroke-width="1.3"/>
<line x1="1530.0" y1="200.0" x2="1530.0" y2="499.0" stroke="#707070" stroke-width="1.3"/></g>
<g filter="url(#bl)" stroke-width="0.7"><defs><linearGradient id="stB"><stop offset="0.0000" stop-color="#9058f0"/><stop offset="0.0350" stop-color="#7c50f0"/><stop offset="0.0750" stop-color="#4446fc"/><stop offset="0.1100" stop-color="#1040ff"/><stop offset="0.1400" stop-color="#1040ff"/><stop offset="0.2000" stop-color="#1450f8"/><stop offset="0.2600" stop-color="#2880f0"/><stop offset="0.3100" stop-color="#40b0f0"/><stop offset="0.3600" stop-color="#50d8e8"/><stop offset="0.4300" stop-color="#54c088"/><stop offset="0.5100" stop-color="#58b838"/><stop offset="0.5800" stop-color="#62b81c"/><stop offset="0.6600" stop-color="#66b818"/><stop offset="0.7300" stop-color="#84bc18"/><stop offset="0.7900" stop-color="#aab81c"/><stop offset="0.8400" stop-color="#c8b024"/><stop offset="0.9100" stop-color="#d09028"/><stop offset="1.0000" stop-color="#d83c20"/></linearGradient></defs><defs><linearGradient id="g97" href="#stB" gradientUnits="userSpaceOnUse" x1="1260.4" y1="462.6" x2="1255.5" y2="102.0"/>
<linearGradient id="g98" href="#stB" gradientUnits="userSpaceOnUse" x1="1261.2" y1="456.7" x2="1258.0" y2="104.6"/>
<linearGradient id="g99" href="#stB" gradientUnits="userSpaceOnUse" x1="1221.3" y1="466.3" x2="1210.9" y2="99.9"/>
<linearGradient id="g100" href="#stB" gradientUnits="userSpaceOnUse" x1="1223.3" y1="464.2" x2="1214.1" y2="102.2"/>
<linearGradient id="g101" href="#stB" gradientUnits="userSpaceOnUse" x1="1289.9" y1="472.3" x2="1300.2" y2="91.8"/>
<linearGradient id="g102" href="#stB" gradientUnits="userSpaceOnUse" x1="1290.4" y1="466.3" x2="1299.6" y2="99.5"/>
<linearGradient id="g103" href="#stB" gradientUnits="userSpaceOnUse" x1="1277.4" y1="521.1" x2="897.3" y2="-13.1"/>
<linearGradient id="g104" href="#stB" gradientUnits="userSpaceOnUse" x1="1190.0" y1="470.9" x2="1156.1" y2="98.3"/>
<linearGradient id="g105" href="#stB" gradientUnits="userSpaceOnUse" x1="1250.7" y1="475.5" x2="1267.5" y2="75.4"/>
<linearGradient id="g106" href="#stB" gradientUnits="userSpaceOnUse" x1="1250.9" y1="470.5" x2="1264.6" y2="91.9"/>
<linearGradient id="g107" href="#stB" gradientUnits="userSpaceOnUse" x1="1314.3" y1="489.0" x2="1378.3" y2="63.5"/>
<linearGradient id="g108" href="#stB" gradientUnits="userSpaceOnUse" x1="1316.3" y1="479.2" x2="1360.5" y2="86.3"/>
<linearGradient id="g109" href="#stB" gradientUnits="userSpaceOnUse" x1="1260.6" y1="534.5" x2="825.4" y2="46.2"/>
<linearGradient id="g110" href="#stB" gradientUnits="userSpaceOnUse" x1="1268.9" y1="525.6" x2="844.9" y2="32.9"/>
<linearGradient id="g111" href="#stB" gradientUnits="userSpaceOnUse" x1="1225.1" y1="481.6" x2="1126.7" y2="128.7"/>
<linearGradient id="g112" href="#stB" gradientUnits="userSpaceOnUse" x1="1262.9" y1="482.8" x2="994.2" y2="84.4"/>
<linearGradient id="g113" href="#stB" gradientUnits="userSpaceOnUse" x1="1282.5" y1="485.4" x2="1365.1" y2="48.0"/>
<linearGradient id="g114" href="#stB" gradientUnits="userSpaceOnUse" x1="1280.0" y1="482.4" x2="1347.9" y2="63.6"/>
<linearGradient id="g115" href="#stB" gradientUnits="userSpaceOnUse" x1="1301.8" y1="496.8" x2="1585.4" y2="121.2"/>
<linearGradient id="g116" href="#stB" gradientUnits="userSpaceOnUse" x1="1288.8" y1="487.2" x2="1575.4" y2="112.3"/>
<linearGradient id="g117" href="#stB" gradientUnits="userSpaceOnUse" x1="1275.2" y1="382.7" x2="736.2" y2="428.5"/>
<linearGradient id="g118" href="#stB" gradientUnits="userSpaceOnUse" x1="1241.0" y1="552.2" x2="818.7" y2="50.4"/>
<linearGradient id="g119" href="#stB" gradientUnits="userSpaceOnUse" x1="1194.6" y1="495.2" x2="1030.0" y2="163.9"/>
<linearGradient id="g120" href="#stB" gradientUnits="userSpaceOnUse" x1="1206.8" y1="490.0" x2="1025.8" y2="159.1"/>
<linearGradient id="g121" href="#stB" gradientUnits="userSpaceOnUse" x1="1384.4" y1="470.2" x2="-3505.1" y2="765.7"/>
<linearGradient id="g122" href="#stB" gradientUnits="userSpaceOnUse" x1="1252.3" y1="490.8" x2="1226.4" y2="-100.6"/>
<linearGradient id="g123" href="#stB" gradientUnits="userSpaceOnUse" x1="1311.8" y1="497.5" x2="1487.5" y2="114.9"/>
<linearGradient id="g124" href="#stB" gradientUnits="userSpaceOnUse" x1="1291.5" y1="492.0" x2="1584.8" y2="105.7"/>
<linearGradient id="g125" href="#stB" gradientUnits="userSpaceOnUse" x1="1302.8" y1="498.8" x2="1680.3" y2="201.8"/>
<linearGradient id="g126" href="#stB" gradientUnits="userSpaceOnUse" x1="1313.8" y1="505.4" x2="1617.2" y2="148.8"/>
<linearGradient id="g127" href="#stB" gradientUnits="userSpaceOnUse" x1="1041.3" y1="556.0" x2="1085.8" y2="115.5"/>
<linearGradient id="g128" href="#stB" gradientUnits="userSpaceOnUse" x1="1153.6" y1="711.2" x2="897.3" y2="-154.5"/>
<linearGradient id="g129" href="#stB" gradientUnits="userSpaceOnUse" x1="1203.1" y1="477.9" x2="860.2" y2="331.5"/>
<linearGradient id="g130" href="#stB" gradientUnits="userSpaceOnUse" x1="1184.4" y1="501.5" x2="964.7" y2="201.1"/>
<linearGradient id="g131" href="#stB" gradientUnits="userSpaceOnUse" x1="1222.6" y1="518.9" x2="941.0" y2="-209.7"/>
<linearGradient id="g132" href="#stB" gradientUnits="userSpaceOnUse" x1="1220.8" y1="458.1" x2="1024.9" y2="867.5"/>
<linearGradient id="g133" href="#stB" gradientUnits="userSpaceOnUse" x1="1213.5" y1="373.0" x2="3379.2" y2="3853.9"/>
<linearGradient id="g134" href="#stB" gradientUnits="userSpaceOnUse" x1="1285.8" y1="465.9" x2="1330.7" y2="1068.2"/>
<linearGradient id="g135" href="#stB" gradientUnits="userSpaceOnUse" x1="1316.2" y1="503.1" x2="1675.4" y2="237.4"/>
<linearGradient id="g136" href="#stB" gradientUnits="userSpaceOnUse" x1="1316.1" y1="500.9" x2="1628.4" y2="195.4"/>
<linearGradient id="g137" href="#stB" gradientUnits="userSpaceOnUse" x1="1274.7" y1="451.0" x2="1797.8" y2="348.8"/>
<linearGradient id="g138" href="#stB" gradientUnits="userSpaceOnUse" x1="1391.2" y1="554.2" x2="1536.2" y2="102.0"/>
<linearGradient id="g139" href="#stB" gradientUnits="userSpaceOnUse" x1="1097.6" y1="533.1" x2="1062.0" y2="178.1"/>
<linearGradient id="g140" href="#stB" gradientUnits="userSpaceOnUse" x1="1103.0" y1="534.3" x2="1065.4" y2="171.4"/>
<linearGradient id="g141" href="#stB" gradientUnits="userSpaceOnUse" x1="1189.3" y1="526.0" x2="967.2" y2="144.7"/>
<linearGradient id="g142" href="#stB" gradientUnits="userSpaceOnUse" x1="1185.7" y1="465.4" x2="1038.9" y2="587.3"/>
<linearGradient id="g143" href="#stB" gradientUnits="userSpaceOnUse" x1="1245.1" y1="497.3" x2="1247.5" y2="545.6"/>
<linearGradient id="g144" href="#stB" gradientUnits="userSpaceOnUse" x1="1221.7" y1="406.5" x2="2053.4" y2="3282.3"/>
<linearGradient id="g145" href="#stB" gradientUnits="userSpaceOnUse" x1="1319.3" y1="481.4" x2="1357.1" y2="598.4"/>
<linearGradient id="g146" href="#stB" gradientUnits="userSpaceOnUse" x1="1321.9" y1="482.8" x2="1348.2" y2="572.8"/>
<linearGradient id="g147" href="#stB" gradientUnits="userSpaceOnUse" x1="1362.5" y1="439.7" x2="1529.6" y2="545.6"/>
<linearGradient id="g148" href="#stB" gradientUnits="userSpaceOnUse" x1="1325.9" y1="516.6" x2="1666.3" y2="218.7"/>
<linearGradient id="g149" href="#stB" gradientUnits="userSpaceOnUse" x1="1134.6" y1="570.0" x2="1004.8" y2="-450.0"/>
<linearGradient id="g150" href="#stB" gradientUnits="userSpaceOnUse" x1="1131.0" y1="533.3" x2="1115.8" y2="157.4"/>
<linearGradient id="g151" href="#stB" gradientUnits="userSpaceOnUse" x1="1202.3" y1="496.7" x2="1234.9" y2="668.8"/>
<linearGradient id="g152" href="#stB" gradientUnits="userSpaceOnUse" x1="1204.3" y1="495.7" x2="1239.2" y2="678.0"/>
<linearGradient id="g153" href="#stB" gradientUnits="userSpaceOnUse" x1="1280.7" y1="494.6" x2="1284.0" y2="527.9"/>
<linearGradient id="g154" href="#stB" gradientUnits="userSpaceOnUse" x1="1349.0" y1="467.2" x2="1399.3" y2="566.8"/>
<linearGradient id="g155" href="#stB" gradientUnits="userSpaceOnUse" x1="1359.6" y1="481.3" x2="1362.6" y2="491.5"/>
<linearGradient id="g156" href="#stB" gradientUnits="userSpaceOnUse" x1="1100.7" y1="503.9" x2="2071.1" y2="878.4"/>
<linearGradient id="g157" href="#stB" gradientUnits="userSpaceOnUse" x1="1143.9" y1="494.9" x2="1510.0" y2="914.4"/>
<linearGradient id="g158" href="#stB" gradientUnits="userSpaceOnUse" x1="1242.3" y1="511.7" x2="1233.8" y2="462.1"/>
<linearGradient id="g159" href="#stB" gradientUnits="userSpaceOnUse" x1="1239.3" y1="493.9" x2="1265.4" y2="602.8"/>
<linearGradient id="g160" href="#stB" gradientUnits="userSpaceOnUse" x1="1316.3" y1="484.5" x2="1327.0" y2="546.9"/>
<linearGradient id="g161" href="#stB" gradientUnits="userSpaceOnUse" x1="1318.8" y1="492.2" x2="1320.9" y2="511.8"/>
<linearGradient id="g162" href="#stB" gradientUnits="userSpaceOnUse" x1="1194.8" y1="511.4" x2="1241.6" y2="590.9"/>
<linearGradient id="g163" href="#stB" gradientUnits="userSpaceOnUse" x1="1191.0" y1="502.3" x2="1293.4" y2="641.3"/>
<linearGradient id="g164" href="#stB" gradientUnits="userSpaceOnUse" x1="1275.5" y1="473.2" x2="1298.7" y2="604.3"/>
<linearGradient id="g165" href="#stB" gradientUnits="userSpaceOnUse" x1="1279.3" y1="494.9" x2="1281.3" y2="527.0"/>
<linearGradient id="g166" href="#stB" gradientUnits="userSpaceOnUse" x1="1235.3" y1="504.9" x2="1252.8" y2="564.5"/>
<linearGradient id="g167" href="#stB" gradientUnits="userSpaceOnUse" x1="1206.7" y1="462.9" x2="1377.7" y2="708.9"/></defs>
<path d="M1219.2 206.2L1256.4 306.4L1296.7 218.7z" fill="url(#g97)" stroke="url(#g97)"/>
<path d="M1219.2 206.2L1296.7 218.7L1260.0 105.0z" fill="url(#g98)" stroke="url(#g98)"/>
<path d="M1179.2 289.5L1216.4 384.3L1256.4 306.4z" fill="url(#g99)" stroke="url(#g99)"/>
<path d="M1179.2 289.5L1256.4 306.4L1219.2 206.2z" fill="url(#g100)" stroke="url(#g100)"/>
<path d="M1256.4 306.4L1292.3 379.2L1332.5 304.0z" fill="url(#g101)" stroke="url(#g101)"/>
<path d="M1256.4 306.4L1332.5 304.0L1296.7 218.7z" fill="url(#g102)" stroke="url(#g102)"/>
<path d="M1139.0 349.3L1176.4 407.5L1216.4 384.3z" fill="url(#g103)" stroke="url(#g103)"/>
<path d="M1139.0 349.3L1216.4 384.3L1179.2 289.5z" fill="url(#g104)" stroke="url(#g104)"/>
<path d="M1216.4 384.3L1252.5 443.8L1292.3 379.2z" fill="url(#g105)" stroke="url(#g105)"/>
<path d="M1216.4 384.3L1292.3 379.2L1256.4 306.4z" fill="url(#g106)" stroke="url(#g106)"/>
<path d="M1292.3 379.2L1328.6 418.4L1368.9 356.7z" fill="url(#g107)" stroke="url(#g107)"/>
<path d="M1292.3 379.2L1368.9 356.7L1332.5 304.0z" fill="url(#g108)" stroke="url(#g108)"/>
<path d="M1098.8 363.9L1136.0 416.2L1176.4 407.5z" fill="url(#g109)" stroke="url(#g109)"/>
<path d="M1098.8 363.9L1176.4 407.5L1139.0 349.3z" fill="url(#g110)" stroke="url(#g110)"/>
<path d="M1176.4 407.5L1212.5 471.8L1252.5 443.8z" fill="url(#g111)" stroke="url(#g111)"/>
<path d="M1176.4 407.5L1252.5 443.8L1216.4 384.3z" fill="url(#g112)" stroke="url(#g112)"/>
<path d="M1252.5 443.8L1288.3 477.6L1328.6 418.4z" fill="url(#g113)" stroke="url(#g113)"/>
<path d="M1252.5 443.8L1328.6 418.4L1292.3 379.2z" fill="url(#g114)" stroke="url(#g114)"/>
<path d="M1328.6 418.4L1363.7 440.2L1405.5 377.0z" fill="url(#g115)" stroke="url(#g115)"/>
<path d="M1328.6 418.4L1405.5 377.0L1368.9 356.7z" fill="url(#g116)" stroke="url(#g116)"/>
<path d="M1058.3 365.7L1095.0 411.7L1136.0 416.2z" fill="url(#g117)" stroke="url(#g117)"/>
<path d="M1058.3 365.7L1136.0 416.2L1098.8 363.9z" fill="url(#g118)" stroke="url(#g118)"/>
<path d="M1136.0 416.2L1174.0 474.0L1212.5 471.8z" fill="url(#g119)" stroke="url(#g119)"/>
<path d="M1136.0 416.2L1212.5 471.8L1176.4 407.5z" fill="url(#g120)" stroke="url(#g120)"/>
<path d="M1212.5 471.8L1248.7 485.5L1288.3 477.6z" fill="url(#g121)" stroke="url(#g121)"/>
<path d="M1212.5 471.8L1288.3 477.6L1252.5 443.8z" fill="url(#g122)" stroke="url(#g122)"/>
<path d="M1288.3 477.6L1324.3 485.8L1363.7 440.2z" fill="url(#g123)" stroke="url(#g123)"/>
<path d="M1288.3 477.6L1363.7 440.2L1328.6 418.4z" fill="url(#g124)" stroke="url(#g124)"/>
<path d="M1363.7 440.2L1399.8 440.2L1441.5 382.5z" fill="url(#g125)" stroke="url(#g125)"/>
<path d="M1363.7 440.2L1441.5 382.5L1405.5 377.0z" fill="url(#g126)" stroke="url(#g126)"/>
<path d="M1017.5 376.3L1054.3 455.0L1095.0 411.7z" fill="url(#g127)" stroke="url(#g127)"/>
<path d="M1017.5 376.3L1095.0 411.7L1058.3 365.7z" fill="url(#g128)" stroke="url(#g128)"/>
<path d="M1095.0 411.7L1131.0 458.7L1174.0 474.0z" fill="url(#g129)" stroke="url(#g129)"/>
<path d="M1095.0 411.7L1174.0 474.0L1136.0 416.2z" fill="url(#g130)" stroke="url(#g130)"/>
<path d="M1174.0 474.0L1207.7 500.5L1248.7 485.5z" fill="url(#g131)" stroke="url(#g131)"/>
<path d="M1174.0 474.0L1248.7 485.5L1212.5 471.8z" fill="url(#g132)" stroke="url(#g132)"/>
<path d="M1248.7 485.5L1285.0 497.0L1324.3 485.8z" fill="url(#g133)" stroke="url(#g133)"/>
<path d="M1248.7 485.5L1324.3 485.8L1288.3 477.6z" fill="url(#g134)" stroke="url(#g134)"/>
<path d="M1324.3 485.8L1361.3 482.0L1399.8 440.2z" fill="url(#g135)" stroke="url(#g135)"/>
<path d="M1324.3 485.8L1399.8 440.2L1363.7 440.2z" fill="url(#g136)" stroke="url(#g136)"/>
<path d="M1399.8 440.2L1438.0 434.0L1479.0 382.5z" fill="url(#g137)" stroke="url(#g137)"/>
<path d="M1399.8 440.2L1479.0 382.5L1441.5 382.5z" fill="url(#g138)" stroke="url(#g138)"/>
<path d="M1054.3 455.0L1090.0 511.8L1131.0 458.7z" fill="url(#g139)" stroke="url(#g139)"/>
<path d="M1054.3 455.0L1131.0 458.7L1095.0 411.7z" fill="url(#g140)" stroke="url(#g140)"/>
<path d="M1131.0 458.7L1167.3 512.5L1207.7 500.5z" fill="url(#g141)" stroke="url(#g141)"/>
<path d="M1131.0 458.7L1207.7 500.5L1174.0 474.0z" fill="url(#g142)" stroke="url(#g142)"/>
<path d="M1207.7 500.5L1243.0 500.5L1285.0 497.0z" fill="url(#g143)" stroke="url(#g143)"/>
<path d="M1207.7 500.5L1285.0 497.0L1248.7 485.5z" fill="url(#g144)" stroke="url(#g144)"/>
<path d="M1285.0 497.0L1321.0 494.0L1361.3 482.0z" fill="url(#g145)" stroke="url(#g145)"/>
<path d="M1285.0 497.0L1361.3 482.0L1324.3 485.8z" fill="url(#g146)" stroke="url(#g146)"/>
<path d="M1361.3 482.0L1397.8 472.5L1438.0 434.0z" fill="url(#g147)" stroke="url(#g147)"/>
<path d="M1361.3 482.0L1438.0 434.0L1399.8 440.2z" fill="url(#g148)" stroke="url(#g148)"/>
<path d="M1090.0 511.8L1127.3 535.0L1167.3 512.5z" fill="url(#g149)" stroke="url(#g149)"/>
<path d="M1090.0 511.8L1167.3 512.5L1131.0 458.7z" fill="url(#g150)" stroke="url(#g150)"/>
<path d="M1167.3 512.5L1203.5 513.5L1243.0 500.5z" fill="url(#g151)" stroke="url(#g151)"/>
<path d="M1167.3 512.5L1243.0 500.5L1207.7 500.5z" fill="url(#g152)" stroke="url(#g152)"/>
<path d="M1243.0 500.5L1279.0 499.0L1321.0 494.0z" fill="url(#g153)" stroke="url(#g153)"/>
<path d="M1321.0 494.0L1357.5 492.8L1397.8 472.5z" fill="url(#g154)" stroke="url(#g154)"/>
<path d="M1321.0 494.0L1397.8 472.5L1361.3 482.0z" fill="url(#g155)" stroke="url(#g155)"/>
<path d="M1127.3 535.0L1163.0 537.3L1203.5 513.5z" fill="url(#g156)" stroke="url(#g156)"/>
<path d="M1127.3 535.0L1203.5 513.5L1167.3 512.5z" fill="url(#g157)" stroke="url(#g157)"/>
<path d="M1203.5 513.5L1241.0 503.0L1279.0 499.0z" fill="url(#g158)" stroke="url(#g158)"/>
<path d="M1203.5 513.5L1279.0 499.0L1243.0 500.5z" fill="url(#g159)" stroke="url(#g159)"/>
<path d="M1279.0 499.0L1319.0 500.8L1357.5 492.8z" fill="url(#g160)" stroke="url(#g160)"/>
<path d="M1279.0 499.0L1357.5 492.8L1321.0 494.0z" fill="url(#g161)" stroke="url(#g161)"/>
<path d="M1163.0 537.3L1199.2 525.7L1241.0 503.0z" fill="url(#g162)" stroke="url(#g162)"/>
<path d="M1163.0 537.3L1241.0 503.0L1203.5 513.5z" fill="url(#g163)" stroke="url(#g163)"/>
<path d="M1241.0 503.0L1283.0 508.4L1319.0 500.8z" fill="url(#g164)" stroke="url(#g164)"/>
<path d="M1241.0 503.0L1319.0 500.8L1279.0 499.0z" fill="url(#g165)" stroke="url(#g165)"/>
<path d="M1199.2 525.7L1235.8 521.5L1283.0 508.4z" fill="url(#g166)" stroke="url(#g166)"/>
<path d="M1199.2 525.7L1283.0 508.4L1241.0 503.0z" fill="url(#g167)" stroke="url(#g167)"/>
<defs><linearGradient id="g168" href="#stL" gradientUnits="userSpaceOnUse" x1="1802.9" y1="-3138.0" x2="322.0" y2="6043.2"/>
<linearGradient id="g169" href="#stL" gradientUnits="userSpaceOnUse" x1="1675.9" y1="-1768.2" x2="469.1" y2="3744.7"/>
<linearGradient id="g170" href="#stL" gradientUnits="userSpaceOnUse" x1="1933.0" y1="-2997.6" x2="9.9" y2="5787.1"/>
<linearGradient id="g171" href="#stL" gradientUnits="userSpaceOnUse" x1="1268.0" y1="-486.1" x2="1334.6" y2="1624.2"/>
<linearGradient id="g172" href="#stL" gradientUnits="userSpaceOnUse" x1="1194.0" y1="-2932.7" x2="1466.3" y2="5701.6"/>
<linearGradient id="g173" href="#stL" gradientUnits="userSpaceOnUse" x1="1360.3" y1="214.8" x2="941.1" y2="594.0"/>
<linearGradient id="g174" href="#stL" gradientUnits="userSpaceOnUse" x1="1481.2" y1="175.5" x2="733.0" y2="584.2"/>
<linearGradient id="g175" href="#stL" gradientUnits="userSpaceOnUse" x1="885.6" y1="-208.6" x2="1783.4" y2="1281.7"/>
<linearGradient id="g176" href="#stL" gradientUnits="userSpaceOnUse" x1="686.6" y1="-317.5" x2="2137.9" y2="1403.7"/>
<linearGradient id="g177" href="#stL" gradientUnits="userSpaceOnUse" x1="1149.6" y1="104.6" x2="1556.4" y2="736.5"/>
<linearGradient id="g178" href="#stL" gradientUnits="userSpaceOnUse" x1="1083.6" y1="30.4" x2="1690.0" y2="804.8"/>
<linearGradient id="g179" href="#stL" gradientUnits="userSpaceOnUse" x1="1585.2" y1="172.9" x2="688.9" y2="618.8"/>
<linearGradient id="g180" href="#stL" gradientUnits="userSpaceOnUse" x1="1339.4" y1="191.4" x2="919.9" y2="571.0"/>
<linearGradient id="g181" href="#stL" gradientUnits="userSpaceOnUse" x1="1438.1" y1="212.7" x2="957.5" y2="702.0"/>
<linearGradient id="g182" href="#stL" gradientUnits="userSpaceOnUse" x1="1367.3" y1="233.6" x2="1013.3" y2="648.2"/>
<linearGradient id="g183" href="#stL" gradientUnits="userSpaceOnUse" x1="1058.5" y1="210.7" x2="1550.6" y2="712.6"/>
<linearGradient id="g184" href="#stL" gradientUnits="userSpaceOnUse" x1="1047.0" y1="184.4" x2="1601.9" y2="705.8"/>
<linearGradient id="g185" href="#stL" gradientUnits="userSpaceOnUse" x1="516.2" y1="-150.1" x2="2238.6" y2="989.1"/>
<linearGradient id="g186" href="#stL" gradientUnits="userSpaceOnUse" x1="1188.0" y1="142.7" x2="1567.6" y2="652.6"/>
<linearGradient id="g187" href="#stL" gradientUnits="userSpaceOnUse" x1="1480.6" y1="171.4" x2="769.1" y2="590.8"/>
<linearGradient id="g188" href="#stL" gradientUnits="userSpaceOnUse" x1="1532.1" y1="159.0" x2="712.5" y2="579.7"/>
<linearGradient id="g189" href="#stL" gradientUnits="userSpaceOnUse" x1="1346.1" y1="3462.7" x2="1004.5" y2="-2514.9"/>
<linearGradient id="g190" href="#stL" gradientUnits="userSpaceOnUse" x1="1442.8" y1="124.0" x2="899.9" y2="748.0"/>
<linearGradient id="g191" href="#stL" gradientUnits="userSpaceOnUse" x1="1267.2" y1="254.1" x2="1233.4" y2="695.3"/>
<linearGradient id="g192" href="#stL" gradientUnits="userSpaceOnUse" x1="941.8" y1="-330.8" x2="1722.3" y2="1242.6"/>
<linearGradient id="g193" href="#stL" gradientUnits="userSpaceOnUse" x1="863.7" y1="1099.1" x2="1219.1" y2="-169.0"/>
<linearGradient id="g194" href="#stL" gradientUnits="userSpaceOnUse" x1="1809.3" y1="3280.5" x2="457.7" y2="-1921.8"/>
<linearGradient id="g195" href="#stL" gradientUnits="userSpaceOnUse" x1="1021.7" y1="761.7" x2="1237.7" y2="154.8"/>
<linearGradient id="g196" href="#stL" gradientUnits="userSpaceOnUse" x1="1541.8" y1="234.8" x2="759.5" y2="617.8"/>
<linearGradient id="g197" href="#stL" gradientUnits="userSpaceOnUse" x1="3600.5" y1="2412.2" x2="-1383.7" y2="-1436.2"/>
<linearGradient id="g198" href="#stL" gradientUnits="userSpaceOnUse" x1="1135.8" y1="957.8" x2="1054.4" y2="-34.5"/></defs>
<path d="M1219.2 206.2L1256.4 306.4L1296.7 218.7z" fill="url(#g168)" stroke-width="0" stroke="url(#g168)"/>
<path d="M1219.2 206.2L1296.7 218.7L1260.0 105.0z" fill="#000" fill-opacity="0.270" stroke="none"/>
<path d="M1179.2 289.5L1216.4 384.3L1256.4 306.4z" fill="url(#g169)" stroke-width="0" stroke="url(#g169)"/>
<path d="M1179.2 289.5L1256.4 306.4L1219.2 206.2z" fill="url(#g170)" stroke-width="0" stroke="url(#g170)"/>
<path d="M1256.4 306.4L1292.3 379.2L1332.5 304.0z" fill="url(#g171)" stroke-width="0" stroke="url(#g171)"/>
<path d="M1256.4 306.4L1332.5 304.0L1296.7 218.7z" fill="url(#g172)" stroke-width="0" stroke="url(#g172)"/>
<path d="M1139.0 349.3L1176.4 407.5L1216.4 384.3z" fill="url(#g173)" stroke-width="0" stroke="url(#g173)"/>
<path d="M1139.0 349.3L1216.4 384.3L1179.2 289.5z" fill="url(#g174)" stroke-width="0" stroke="url(#g174)"/>
<path d="M1216.4 384.3L1252.5 443.8L1292.3 379.2z" fill="url(#g175)" stroke-width="0" stroke="url(#g175)"/>
<path d="M1216.4 384.3L1292.3 379.2L1256.4 306.4z" fill="url(#g176)" stroke-width="0" stroke="url(#g176)"/>
<path d="M1292.3 379.2L1328.6 418.4L1368.9 356.7z" fill="url(#g177)" stroke-width="0" stroke="url(#g177)"/>
<path d="M1292.3 379.2L1368.9 356.7L1332.5 304.0z" fill="url(#g178)" stroke-width="0" stroke="url(#g178)"/>
<path d="M1098.8 363.9L1136.0 416.2L1176.4 407.5z" fill="url(#g179)" stroke-width="0" stroke="url(#g179)"/>
<path d="M1098.8 363.9L1176.4 407.5L1139.0 349.3z" fill="url(#g180)" stroke-width="0" stroke="url(#g180)"/>
<path d="M1176.4 407.5L1212.5 471.8L1252.5 443.8z" fill="url(#g181)" stroke-width="0" stroke="url(#g181)"/>
<path d="M1176.4 407.5L1252.5 443.8L1216.4 384.3z" fill="url(#g182)" stroke-width="0" stroke="url(#g182)"/>
<path d="M1252.5 443.8L1288.3 477.6L1328.6 418.4z" fill="url(#g183)" stroke-width="0" stroke="url(#g183)"/>
<path d="M1252.5 443.8L1328.6 418.4L1292.3 379.2z" fill="url(#g184)" stroke-width="0" stroke="url(#g184)"/>
<path d="M1328.6 418.4L1363.7 440.2L1405.5 377.0z" fill="url(#g185)" stroke-width="0" stroke="url(#g185)"/>
<path d="M1328.6 418.4L1405.5 377.0L1368.9 356.7z" fill="url(#g186)" stroke-width="0" stroke="url(#g186)"/>
<path d="M1058.3 365.7L1095.0 411.7L1136.0 416.2z" fill="url(#g187)" stroke-width="0" stroke="url(#g187)"/>
<path d="M1058.3 365.7L1136.0 416.2L1098.8 363.9z" fill="url(#g188)" stroke-width="0" stroke="url(#g188)"/>
<path d="M1136.0 416.2L1174.0 474.0L1212.5 471.8z" fill="url(#g189)" stroke-width="0" stroke="url(#g189)"/>
<path d="M1136.0 416.2L1212.5 471.8L1176.4 407.5z" fill="url(#g190)" stroke-width="0" stroke="url(#g190)"/>
<path d="M1212.5 471.8L1288.3 477.6L1252.5 443.8z" fill="url(#g191)" stroke-width="0" stroke="url(#g191)"/>
<path d="M1288.3 477.6L1363.7 440.2L1328.6 418.4z" fill="url(#g192)" stroke-width="0" stroke="url(#g192)"/>
<path d="M1017.5 376.3L1054.3 455.0L1095.0 411.7z" fill="url(#g193)" stroke-width="0" stroke="url(#g193)"/>
<path d="M1017.5 376.3L1095.0 411.7L1058.3 365.7z" fill="url(#g194)" stroke-width="0" stroke="url(#g194)"/>
<path d="M1095.0 411.7L1131.0 458.7L1174.0 474.0z" fill="url(#g195)" stroke-width="0" stroke="url(#g195)"/>
<path d="M1095.0 411.7L1174.0 474.0L1136.0 416.2z" fill="url(#g196)" stroke-width="0" stroke="url(#g196)"/>
<path d="M1054.3 455.0L1090.0 511.8L1131.0 458.7z" fill="url(#g197)" stroke-width="0" stroke="url(#g197)"/>
<path d="M1054.3 455.0L1131.0 458.7L1095.0 411.7z" fill="url(#g198)" stroke-width="0" stroke="url(#g198)"/></g>
<g filter="url(#bl2)"><line x1="966.5" y1="190.7" x2="1232.5" y2="304.5" stroke="#707070" stroke-width="1.3"/>
<line x1="1232.5" y1="304.5" x2="1530.0" y2="200.0" stroke="#707070" stroke-width="1.3"/>
<line x1="1232.5" y1="304.5" x2="1233.8" y2="605.3" stroke="#707070" stroke-width="1.3"/>
<line x1="967.3" y1="489.8" x2="1233.8" y2="605.3" stroke="#707070" stroke-width="1.3"/>
<line x1="1233.8" y1="605.3" x2="1530.0" y2="499.0" stroke="#707070" stroke-width="1.3"/></g>
<g filter="url(#bl2)"><ellipse cx="1017.5" cy="376.3" rx="9.2" ry="8.2" fill="url(#dB)"/>
<ellipse cx="1054.3" cy="455.0" rx="9.2" ry="8.2" fill="url(#dB)"/>
<ellipse cx="1090.0" cy="511.8" rx="9.2" ry="8.2" fill="url(#dB)"/>
<ellipse cx="1127.3" cy="535.0" rx="9.2" ry="8.2" fill="url(#dB)"/>
<ellipse cx="1163.0" cy="537.3" rx="9.2" ry="8.2" fill="url(#dB)"/>
<ellipse cx="1199.2" cy="525.7" rx="9.2" ry="8.2" fill="url(#dB)"/>
<ellipse cx="1235.8" cy="521.5" rx="9.2" ry="8.2" fill="url(#dB)"/>
<ellipse cx="1058.3" cy="365.7" rx="9.2" ry="8.2" fill="url(#dB)"/>
<ellipse transform="translate(1095.0 411.7) rotate(15)" rx="8.8" ry="7.2" fill="url(#dB)"/>
<ellipse transform="translate(1131.0 458.7) rotate(15)" rx="8.8" ry="7.2" fill="url(#dB)"/>
<ellipse transform="translate(1167.3 512.5) rotate(0)" rx="8.6" ry="5.6" fill="url(#dB)"/>
<ellipse transform="translate(1203.5 513.5) rotate(0)" rx="8.6" ry="5.6" fill="url(#dB)"/>
<ellipse transform="translate(1241.0 503.0) rotate(0)" rx="8.6" ry="5.6" fill="url(#dB)"/>
<ellipse cx="1283.0" cy="508.4" rx="9.2" ry="8.2" fill="url(#dB)"/>
<ellipse cx="1098.8" cy="363.9" rx="9.2" ry="8.2" fill="url(#dB)"/>
<ellipse transform="translate(1136.0 416.2) rotate(15)" rx="8.8" ry="7.2" fill="url(#dB)"/>
<ellipse transform="translate(1174.0 474.0) rotate(15)" rx="8.8" ry="7.2" fill="url(#dB)"/>
<ellipse transform="translate(1207.7 500.5) rotate(0)" rx="8.6" ry="5.6" fill="url(#dB)"/>
<ellipse transform="translate(1243.0 500.5) rotate(0)" rx="8.6" ry="5.6" fill="url(#dB)"/>
<ellipse transform="translate(1279.0 499.0) rotate(0)" rx="8.6" ry="5.6" fill="url(#dB)"/>
<ellipse cx="1319.0" cy="500.8" rx="9.2" ry="8.2" fill="url(#dB)"/>
<ellipse cx="1139.0" cy="349.3" rx="9.2" ry="8.2" fill="url(#dB)"/>
<ellipse cx="1176.4" cy="407.5" rx="9.2" ry="8.2" fill="url(#dB)"/>
<ellipse transform="translate(1212.5 471.8) rotate(0)" rx="8.6" ry="5.6" fill="url(#dB)"/>
<ellipse transform="translate(1248.7 485.5) rotate(0)" rx="8.6" ry="5.6" fill="url(#dB)"/>
<ellipse transform="translate(1285.0 497.0) rotate(0)" rx="8.6" ry="5.6" fill="url(#dB)"/>
<ellipse transform="translate(1321.0 494.0) rotate(0)" rx="8.6" ry="5.6" fill="url(#dB)"/>
<ellipse cx="1357.5" cy="492.8" rx="9.2" ry="8.2" fill="url(#dB)"/>
<ellipse cx="1179.2" cy="289.5" rx="9.2" ry="8.2" fill="url(#dB)"/>
<ellipse cx="1216.4" cy="384.3" rx="9.2" ry="8.2" fill="url(#dB)"/>
<ellipse transform="translate(1252.5 443.8) rotate(0)" rx="8.6" ry="5.6" fill="url(#dB)"/>
<ellipse transform="translate(1288.3 477.6) rotate(0)" rx="8.6" ry="5.6" fill="url(#dB)"/>
<ellipse transform="translate(1324.3 485.8) rotate(0)" rx="8.6" ry="5.6" fill="url(#dB)"/>
<ellipse transform="translate(1361.3 482.0) rotate(0)" rx="8.6" ry="5.6" fill="url(#dB)"/>
<ellipse cx="1397.8" cy="472.5" rx="9.2" ry="8.2" fill="url(#dB)"/>
<ellipse cx="1219.2" cy="206.2" rx="9.2" ry="8.2" fill="url(#dB)"/>
<ellipse cx="1256.4" cy="306.4" rx="9.2" ry="8.2" fill="url(#dB)"/>
<ellipse cx="1292.3" cy="379.2" rx="9.2" ry="8.2" fill="url(#dB)"/>
<ellipse transform="translate(1328.6 418.4) rotate(-10)" rx="8.8" ry="7" fill="url(#dB)"/>
<ellipse transform="translate(1363.7 440.2) rotate(-10)" rx="8.8" ry="7" fill="url(#dB)"/>
<ellipse transform="translate(1399.8 440.2) rotate(-10)" rx="8.8" ry="7" fill="url(#dB)"/>
<ellipse cx="1438.0" cy="434.0" rx="9.2" ry="8.2" fill="url(#dB)"/>
<ellipse cx="1260.0" cy="105.0" rx="9.2" ry="8.2" fill="url(#dB)"/>
<ellipse cx="1296.7" cy="218.7" rx="9.2" ry="8.2" fill="url(#dB)"/>
<ellipse cx="1332.5" cy="304.0" rx="9.2" ry="8.2" fill="url(#dB)"/>
<ellipse cx="1368.9" cy="356.7" rx="9.2" ry="8.2" fill="url(#dB)"/>
<ellipse cx="1405.5" cy="377.0" rx="9.2" ry="8.2" fill="url(#dB)"/>
<ellipse cx="1441.5" cy="382.5" rx="9.2" ry="8.2" fill="url(#dB)"/>
<ellipse cx="1479.0" cy="382.5" rx="9.2" ry="8.2" fill="url(#dB)"/></g>
</g>
<g id="panelC">
<g filter="url(#bl2)"><line x1="136.5" y1="848.2" x2="407.5" y2="710.3" stroke="#555" stroke-width="1.3"/>
<line x1="407.5" y1="710.3" x2="719.0" y2="832.3" stroke="#555" stroke-width="1.3"/>
<line x1="407.5" y1="710.3" x2="407.5" y2="1014.0" stroke="#555" stroke-width="1.3"/>
<line x1="134.5" y1="1145.3" x2="407.5" y2="1014.0" stroke="#555" stroke-width="1.3"/>
<line x1="407.5" y1="1014.0" x2="717.5" y2="1131.5" stroke="#555" stroke-width="1.3"/>
<line x1="136.5" y1="848.2" x2="134.5" y2="1145.3" stroke="#555" stroke-width="1.3"/>
<line x1="719.0" y1="832.3" x2="717.5" y2="1131.5" stroke="#555" stroke-width="1.3"/></g>
<g filter="url(#bl2)"><ellipse cx="257.8" cy="1079.1" rx="9.2" ry="8.2" fill="url(#dC)"/>
<ellipse cx="295.3" cy="1022.8" rx="9.2" ry="8.2" fill="url(#dC)"/>
<ellipse cx="332.3" cy="965.3" rx="9.2" ry="8.2" fill="url(#dC)"/>
<ellipse cx="369.6" cy="921.6" rx="9.2" ry="8.2" fill="url(#dC)"/>
<ellipse cx="449.6" cy="852.1" rx="9.2" ry="8.2" fill="url(#dC)"/>
<ellipse cx="493.6" cy="829.6" rx="9.2" ry="8.2" fill="url(#dC)"/>
<ellipse cx="535.3" cy="831.6" rx="9.2" ry="8.2" fill="url(#dC)"/></g>
<g filter="url(#bl)" stroke-width="0.7"><defs><linearGradient id="stC"><stop offset="0.0000" stop-color="#4848ff"/><stop offset="0.0800" stop-color="#1040f0"/><stop offset="0.2000" stop-color="#2080f0"/><stop offset="0.3000" stop-color="#70ffff"/><stop offset="0.4000" stop-color="#74f0b0"/><stop offset="0.5000" stop-color="#6cd030"/><stop offset="0.6000" stop-color="#88e820"/><stop offset="0.7000" stop-color="#c8e030"/><stop offset="0.7800" stop-color="#f4e834"/><stop offset="0.8800" stop-color="#e89028"/><stop offset="1.0000" stop-color="#e83020"/></linearGradient></defs><defs><linearGradient id="g199" href="#stC" gradientUnits="userSpaceOnUse" x1="383.1" y1="861.5" x2="438.6" y2="913.1"/>
<linearGradient id="g200" href="#stC" gradientUnits="userSpaceOnUse" x1="426.9" y1="908.6" x2="398.5" y2="871.1"/>
<linearGradient id="g201" href="#stC" gradientUnits="userSpaceOnUse" x1="257.2" y1="1010.9" x2="555.9" y2="820.6"/>
<linearGradient id="g202" href="#stC" gradientUnits="userSpaceOnUse" x1="394.9" y1="973.7" x2="344.6" y2="862.4"/>
<linearGradient id="g203" href="#stC" gradientUnits="userSpaceOnUse" x1="172.9" y1="1162.8" x2="626.9" y2="695.8"/>
<linearGradient id="g204" href="#stC" gradientUnits="userSpaceOnUse" x1="359.3" y1="785.5" x2="511.6" y2="902.7"/>
<linearGradient id="g205" href="#stC" gradientUnits="userSpaceOnUse" x1="303.0" y1="1069.5" x2="472.2" y2="739.4"/>
<linearGradient id="g206" href="#stC" gradientUnits="userSpaceOnUse" x1="254.1" y1="1009.1" x2="592.8" y2="892.0"/>
<linearGradient id="g207" href="#stC" gradientUnits="userSpaceOnUse" x1="230.9" y1="1026.5" x2="617.9" y2="825.5"/>
<linearGradient id="g208" href="#stC" gradientUnits="userSpaceOnUse" x1="323.1" y1="1088.5" x2="505.0" y2="742.4"/>
<linearGradient id="g209" href="#stC" gradientUnits="userSpaceOnUse" x1="292.1" y1="798.5" x2="586.1" y2="902.3"/>
<linearGradient id="g210" href="#stC" gradientUnits="userSpaceOnUse" x1="147.7" y1="995.3" x2="648.7" y2="791.2"/>
<linearGradient id="g211" href="#stC" gradientUnits="userSpaceOnUse" x1="175.7" y1="1174.0" x2="1344.7" y2="146.5"/>
<linearGradient id="g212" href="#stC" gradientUnits="userSpaceOnUse" x1="193.9" y1="1015.1" x2="1177.3" y2="1298.1"/>
<linearGradient id="g213" href="#stC" gradientUnits="userSpaceOnUse" x1="311.5" y1="985.5" x2="532.1" y2="1004.7"/>
<linearGradient id="g214" href="#stC" gradientUnits="userSpaceOnUse" x1="298.7" y1="1059.8" x2="540.9" y2="801.6"/>
<linearGradient id="g215" href="#stC" gradientUnits="userSpaceOnUse" x1="477.0" y1="1023.4" x2="448.2" y2="841.7"/>
<linearGradient id="g216" href="#stC" gradientUnits="userSpaceOnUse" x1="247.9" y1="951.5" x2="600.9" y2="878.9"/>
<linearGradient id="g217" href="#stC" gradientUnits="userSpaceOnUse" x1="307.3" y1="814.6" x2="582.8" y2="861.0"/>
<linearGradient id="g218" href="#stC" gradientUnits="userSpaceOnUse" x1="414.8" y1="782.3" x2="566.1" y2="860.0"/>
<linearGradient id="g219" href="#stC" gradientUnits="userSpaceOnUse" x1="220.0" y1="1077.6" x2="876.7" y2="1435.3"/>
<linearGradient id="g220" href="#stC" gradientUnits="userSpaceOnUse" x1="225.5" y1="1156.1" x2="744.8" y2="272.4"/>
<linearGradient id="g221" href="#stC" gradientUnits="userSpaceOnUse" x1="350.5" y1="1109.1" x2="315.4" y2="793.5"/>
<linearGradient id="g222" href="#stC" gradientUnits="userSpaceOnUse" x1="320.7" y1="1025.3" x2="431.0" y2="1088.6"/>
<linearGradient id="g223" href="#stC" gradientUnits="userSpaceOnUse" x1="220.1" y1="1047.5" x2="708.8" y2="883.6"/>
<linearGradient id="g224" href="#stC" gradientUnits="userSpaceOnUse" x1="401.5" y1="1141.1" x2="448.2" y2="724.8"/>
<linearGradient id="g225" href="#stC" gradientUnits="userSpaceOnUse" x1="480.0" y1="1060.1" x2="517.0" y2="818.2"/>
<linearGradient id="g226" href="#stC" gradientUnits="userSpaceOnUse" x1="491.2" y1="1049.0" x2="506.7" y2="822.6"/>
<linearGradient id="g227" href="#stC" gradientUnits="userSpaceOnUse" x1="24.7" y1="916.6" x2="627.2" y2="838.8"/>
<linearGradient id="g228" href="#stC" gradientUnits="userSpaceOnUse" x1="499.5" y1="1207.1" x2="588.2" y2="808.3"/>
<linearGradient id="g229" href="#stC" gradientUnits="userSpaceOnUse" x1="219.3" y1="1114.4" x2="496.3" y2="1395.2"/>
<linearGradient id="g230" href="#stC" gradientUnits="userSpaceOnUse" x1="197.3" y1="1114.2" x2="1021.5" y2="1378.0"/>
<linearGradient id="g231" href="#stC" gradientUnits="userSpaceOnUse" x1="288.0" y1="1065.0" x2="455.4" y2="1243.5"/>
<linearGradient id="g232" href="#stC" gradientUnits="userSpaceOnUse" x1="274.1" y1="1056.3" x2="569.9" y2="1304.0"/>
<linearGradient id="g233" href="#stC" gradientUnits="userSpaceOnUse" x1="326.4" y1="1018.0" x2="532.3" y2="1097.5"/>
<linearGradient id="g234" href="#stC" gradientUnits="userSpaceOnUse" x1="296.7" y1="1092.9" x2="595.6" y2="856.3"/>
<linearGradient id="g235" href="#stC" gradientUnits="userSpaceOnUse" x1="251.7" y1="966.0" x2="687.0" y2="979.6"/>
<linearGradient id="g236" href="#stC" gradientUnits="userSpaceOnUse" x1="201.9" y1="1148.2" x2="727.1" y2="757.2"/>
<linearGradient id="g237" href="#stC" gradientUnits="userSpaceOnUse" x1="423.8" y1="1062.1" x2="594.6" y2="840.7"/>
<linearGradient id="g238" href="#stC" gradientUnits="userSpaceOnUse" x1="445.7" y1="1062.2" x2="572.1" y2="830.3"/>
<linearGradient id="g239" href="#stC" gradientUnits="userSpaceOnUse" x1="608.9" y1="1168.9" x2="629.5" y2="839.0"/>
<linearGradient id="g240" href="#stC" gradientUnits="userSpaceOnUse" x1="228.8" y1="1514.3" x2="635.5" y2="822.9"/>
<linearGradient id="g241" href="#stC" gradientUnits="userSpaceOnUse" x1="214.1" y1="1109.6" x2="755.9" y2="1187.0"/>
<linearGradient id="g242" href="#stC" gradientUnits="userSpaceOnUse" x1="265.4" y1="1096.8" x2="335.4" y2="1226.0"/>
<linearGradient id="g243" href="#stC" gradientUnits="userSpaceOnUse" x1="305.1" y1="1043.6" x2="489.8" y2="1177.3"/>
<linearGradient id="g244" href="#stC" gradientUnits="userSpaceOnUse" x1="326.1" y1="1049.2" x2="434.6" y2="1151.9"/>
<linearGradient id="g245" href="#stC" gradientUnits="userSpaceOnUse" x1="411.7" y1="1185.2" x2="458.9" y2="784.5"/>
<linearGradient id="g246" href="#stC" gradientUnits="userSpaceOnUse" x1="249.0" y1="1013.9" x2="687.7" y2="1020.8"/>
<linearGradient id="g247" href="#stC" gradientUnits="userSpaceOnUse" x1="448.6" y1="1238.9" x2="559.8" y2="755.0"/>
<linearGradient id="g248" href="#stC" gradientUnits="userSpaceOnUse" x1="198.4" y1="972.4" x2="732.1" y2="925.2"/>
<linearGradient id="g249" href="#stC" gradientUnits="userSpaceOnUse" x1="478.8" y1="1158.5" x2="636.9" y2="830.7"/>
<linearGradient id="g250" href="#stC" gradientUnits="userSpaceOnUse" x1="549.0" y1="1105.1" x2="598.1" y2="842.6"/>
<linearGradient id="g251" href="#stC" gradientUnits="userSpaceOnUse" x1="305.3" y1="1169.5" x2="328.8" y2="814.9"/>
<linearGradient id="g252" href="#stC" gradientUnits="userSpaceOnUse" x1="293.4" y1="1085.4" x2="391.7" y2="1187.2"/>
<linearGradient id="g253" href="#stC" gradientUnits="userSpaceOnUse" x1="117.2" y1="945.0" x2="1057.1" y2="1385.2"/>
<linearGradient id="g254" href="#stC" gradientUnits="userSpaceOnUse" x1="372.2" y1="1220.3" x2="433.8" y2="697.1"/>
<linearGradient id="g255" href="#stC" gradientUnits="userSpaceOnUse" x1="286.4" y1="1160.4" x2="752.6" y2="859.4"/>
<linearGradient id="g256" href="#stC" gradientUnits="userSpaceOnUse" x1="429.5" y1="1194.6" x2="523.3" y2="786.6"/>
<linearGradient id="g257" href="#stC" gradientUnits="userSpaceOnUse" x1="400.9" y1="1272.8" x2="686.4" y2="759.8"/>
<linearGradient id="g258" href="#stC" gradientUnits="userSpaceOnUse" x1="450.1" y1="1246.0" x2="620.7" y2="768.1"/>
<linearGradient id="g259" href="#stC" gradientUnits="userSpaceOnUse" x1="348.5" y1="1097.3" x2="371.2" y2="1135.7"/>
<linearGradient id="g260" href="#stC" gradientUnits="userSpaceOnUse" x1="300.6" y1="1184.4" x2="527.7" y2="800.4"/>
<linearGradient id="g261" href="#stC" gradientUnits="userSpaceOnUse" x1="351.0" y1="1276.7" x2="611.7" y2="687.4"/>
<linearGradient id="g262" href="#stC" gradientUnits="userSpaceOnUse" x1="257.1" y1="941.9" x2="787.7" y2="1322.5"/>
<linearGradient id="g263" href="#stC" gradientUnits="userSpaceOnUse" x1="167.4" y1="1156.0" x2="984.0" y2="940.7"/>
<linearGradient id="g264" href="#stC" gradientUnits="userSpaceOnUse" x1="379.8" y1="1282.0" x2="676.0" y2="732.4"/>
<linearGradient id="g265" href="#stC" gradientUnits="userSpaceOnUse" x1="370.7" y1="1240.3" x2="684.7" y2="859.1"/>
<linearGradient id="g266" href="#stC" gradientUnits="userSpaceOnUse" x1="267.7" y1="1189.8" x2="838.1" y2="908.7"/>
<linearGradient id="g267" href="#stC" gradientUnits="userSpaceOnUse" x1="-527.4" y1="2234.1" x2="2664.8" y2="-1371.9"/>
<linearGradient id="g268" href="#stC" gradientUnits="userSpaceOnUse" x1="-242.3" y1="-73.2" x2="2004.9" y2="3861.9"/></defs>
<path d="M371.8 923.8L415.0 889.5L451.8 854.3z" fill="url(#g199)" stroke="url(#g199)"/>
<path d="M371.8 923.8L451.8 854.3L411.0 887.0z" fill="url(#g200)" stroke="url(#g200)"/>
<path d="M334.5 967.5L377.5 949.3L415.0 889.5z" fill="url(#g201)" stroke="url(#g201)"/>
<path d="M334.5 967.5L415.0 889.5L371.8 923.8z" fill="url(#g202)" stroke="url(#g202)"/>
<path d="M415.0 889.5L456.8 893.8L495.8 831.8z" fill="url(#g203)" stroke="url(#g203)"/>
<path d="M415.0 889.5L495.8 831.8L451.8 854.3z" fill="url(#g204)" stroke="url(#g204)"/>
<path d="M297.5 1025.0L338.8 1029.5L377.5 949.3z" fill="url(#g205)" stroke="url(#g205)"/>
<path d="M297.5 1025.0L377.5 949.3L334.5 967.5z" fill="url(#g206)" stroke="url(#g206)"/>
<path d="M377.5 949.3L419.5 945.0L456.8 893.8z" fill="url(#g207)" stroke="url(#g207)"/>
<path d="M377.5 949.3L456.8 893.8L415.0 889.5z" fill="url(#g208)" stroke="url(#g208)"/>
<path d="M456.8 893.8L499.3 885.8L537.5 833.8z" fill="url(#g209)" stroke="url(#g209)"/>
<path d="M456.8 893.8L537.5 833.8L495.8 831.8z" fill="url(#g210)" stroke="url(#g210)"/>
<path d="M260.0 1081.3L302.5 1082.5L338.8 1029.5z" fill="url(#g211)" stroke="url(#g211)"/>
<path d="M260.0 1081.3L338.8 1029.5L297.5 1025.0z" fill="url(#g212)" stroke="url(#g212)"/>
<path d="M338.8 1029.5L383.6 1000.0L419.5 945.0z" fill="url(#g213)" stroke="url(#g213)"/>
<path d="M338.8 1029.5L419.5 945.0L377.5 949.3z" fill="url(#g214)" stroke="url(#g214)"/>
<path d="M419.5 945.0L463.0 928.8L499.3 885.8z" fill="url(#g215)" stroke="url(#g215)"/>
<path d="M419.5 945.0L499.3 885.8L456.8 893.8z" fill="url(#g216)" stroke="url(#g216)"/>
<path d="M499.3 885.8L543.8 857.0L581.3 819.3z" fill="url(#g217)" stroke="url(#g217)"/>
<path d="M499.3 885.8L581.3 819.3L537.5 833.8z" fill="url(#g218)" stroke="url(#g218)"/>
<path d="M223.0 1119.0L272.5 1106.3L302.5 1082.5z" fill="url(#g219)" stroke="url(#g219)"/>
<path d="M223.0 1119.0L302.5 1082.5L260.0 1081.3z" fill="url(#g220)" stroke="url(#g220)"/>
<path d="M302.5 1082.5L345.0 1061.8L383.6 1000.0z" fill="url(#g221)" stroke="url(#g221)"/>
<path d="M302.5 1082.5L383.6 1000.0L338.8 1029.5z" fill="url(#g222)" stroke="url(#g222)"/>
<path d="M383.6 1000.0L424.6 1008.8L463.0 928.8z" fill="url(#g223)" stroke="url(#g223)"/>
<path d="M383.6 1000.0L463.0 928.8L419.5 945.0z" fill="url(#g224)" stroke="url(#g224)"/>
<path d="M463.0 928.8L505.8 920.5L543.8 857.0z" fill="url(#g225)" stroke="url(#g225)"/>
<path d="M463.0 928.8L543.8 857.0L499.3 885.8z" fill="url(#g226)" stroke="url(#g226)"/>
<path d="M543.8 857.0L587.0 859.5L624.3 816.3z" fill="url(#g227)" stroke="url(#g227)"/>
<path d="M543.8 857.0L624.3 816.3L581.3 819.3z" fill="url(#g228)" stroke="url(#g228)"/>
<path d="M187.0 1146.3L229.0 1121.5L272.5 1106.3z" fill="url(#g229)" stroke="url(#g229)"/>
<path d="M187.0 1146.3L272.5 1106.3L223.0 1119.0z" fill="url(#g230)" stroke="url(#g230)"/>
<path d="M272.5 1106.3L315.0 1100.0L345.0 1061.8z" fill="url(#g231)" stroke="url(#g231)"/>
<path d="M272.5 1106.3L345.0 1061.8L302.5 1082.5z" fill="url(#g232)" stroke="url(#g232)"/>
<path d="M345.0 1061.8L388.8 1052.5L424.6 1008.8z" fill="url(#g233)" stroke="url(#g233)"/>
<path d="M345.0 1061.8L424.6 1008.8L383.6 1000.0z" fill="url(#g234)" stroke="url(#g234)"/>
<path d="M424.6 1008.8L468.8 988.8L505.8 920.5z" fill="url(#g235)" stroke="url(#g235)"/>
<path d="M424.6 1008.8L505.8 920.5L463.0 928.8z" fill="url(#g236)" stroke="url(#g236)"/>
<path d="M505.8 920.5L549.3 925.8L587.0 859.5z" fill="url(#g237)" stroke="url(#g237)"/>
<path d="M505.8 920.5L587.0 859.5L543.8 857.0z" fill="url(#g238)" stroke="url(#g238)"/>
<path d="M587.0 859.5L630.0 892.0L666.8 841.3z" fill="url(#g239)" stroke="url(#g239)"/>
<path d="M587.0 859.5L666.8 841.3L624.3 816.3z" fill="url(#g240)" stroke="url(#g240)"/>
<path d="M229.0 1121.5L266.3 1131.3L315.0 1100.0z" fill="url(#g241)" stroke="url(#g241)"/>
<path d="M229.0 1121.5L315.0 1100.0L272.5 1106.3z" fill="url(#g242)" stroke="url(#g242)"/>
<path d="M315.0 1100.0L352.0 1080.0L388.8 1052.5z" fill="url(#g243)" stroke="url(#g243)"/>
<path d="M315.0 1100.0L388.8 1052.5L345.0 1061.8z" fill="url(#g244)" stroke="url(#g244)"/>
<path d="M388.8 1052.5L431.3 1057.5L468.8 988.8z" fill="url(#g245)" stroke="url(#g245)"/>
<path d="M388.8 1052.5L468.8 988.8L424.6 1008.8z" fill="url(#g246)" stroke="url(#g246)"/>
<path d="M468.8 988.8L512.3 998.8L549.3 925.8z" fill="url(#g247)" stroke="url(#g247)"/>
<path d="M468.8 988.8L549.3 925.8L505.8 920.5z" fill="url(#g248)" stroke="url(#g248)"/>
<path d="M549.3 925.8L592.3 962.7L630.0 892.0z" fill="url(#g249)" stroke="url(#g249)"/>
<path d="M549.3 925.8L630.0 892.0L587.0 859.5z" fill="url(#g250)" stroke="url(#g250)"/>
<path d="M266.3 1131.3L308.8 1127.0L352.0 1080.0z" fill="url(#g251)" stroke="url(#g251)"/>
<path d="M266.3 1131.3L352.0 1080.0L315.0 1100.0z" fill="url(#g252)" stroke="url(#g252)"/>
<path d="M352.0 1080.0L395.5 1085.0L431.3 1057.5z" fill="url(#g253)" stroke="url(#g253)"/>
<path d="M352.0 1080.0L431.3 1057.5L388.8 1052.5z" fill="url(#g254)" stroke="url(#g254)"/>
<path d="M431.3 1057.5L475.0 1063.8L512.3 998.8z" fill="url(#g255)" stroke="url(#g255)"/>
<path d="M431.3 1057.5L512.3 998.8L468.8 988.8z" fill="url(#g256)" stroke="url(#g256)"/>
<path d="M512.3 998.8L555.0 1036.0L592.3 962.7z" fill="url(#g257)" stroke="url(#g257)"/>
<path d="M512.3 998.8L592.3 962.7L549.3 925.8z" fill="url(#g258)" stroke="url(#g258)"/>
<path d="M308.8 1127.0L357.5 1107.5L395.5 1085.0z" fill="url(#g259)" stroke="url(#g259)"/>
<path d="M308.8 1127.0L395.5 1085.0L352.0 1080.0z" fill="url(#g260)" stroke="url(#g260)"/>
<path d="M395.5 1085.0L438.0 1103.8L475.0 1063.8z" fill="url(#g261)" stroke="url(#g261)"/>
<path d="M395.5 1085.0L475.0 1063.8L431.3 1057.5z" fill="url(#g262)" stroke="url(#g262)"/>
<path d="M475.0 1063.8L517.5 1092.5L555.0 1036.0z" fill="url(#g263)" stroke="url(#g263)"/>
<path d="M475.0 1063.8L555.0 1036.0L512.3 998.8z" fill="url(#g264)" stroke="url(#g264)"/>
<path d="M357.5 1107.5L400.0 1125.5L438.0 1103.8z" fill="#70ffff" stroke="#70ffff"/>
<path d="M357.5 1107.5L438.0 1103.8L395.5 1085.0z" fill="#70ffff" stroke="#70ffff"/>
<path d="M438.0 1103.8L480.0 1132.0L517.5 1092.5z" fill="url(#g265)" stroke="url(#g265)"/>
<path d="M438.0 1103.8L517.5 1092.5L475.0 1063.8z" fill="url(#g266)" stroke="url(#g266)"/>
<path d="M400.0 1125.5L442.7 1163.3L480.0 1132.0z" fill="url(#g267)" stroke="url(#g267)"/>
<path d="M400.0 1125.5L480.0 1132.0L438.0 1103.8z" fill="url(#g268)" stroke="url(#g268)"/>
<defs><linearGradient id="g269" href="#stL" gradientUnits="userSpaceOnUse" x1="178.6" y1="737.2" x2="670.1" y2="1056.1"/>
<linearGradient id="g270" href="#stL" gradientUnits="userSpaceOnUse" x1="436.9" y1="920.0" x2="384.4" y2="854.5"/>
<linearGradient id="g271" href="#stL" gradientUnits="userSpaceOnUse" x1="462.7" y1="1064.5" x2="262.7" y2="767.8"/>
<linearGradient id="g272" href="#stL" gradientUnits="userSpaceOnUse" x1="-227.8" y1="875.2" x2="1104.1" y2="989.7"/>
<linearGradient id="g273" href="#stL" gradientUnits="userSpaceOnUse" x1="-330.7" y1="376.9" x2="1263.7" y2="1379.8"/>
<linearGradient id="g274" href="#stL" gradientUnits="userSpaceOnUse" x1="618.0" y1="1178.9" x2="286.0" y2="529.6"/>
<linearGradient id="g275" href="#stL" gradientUnits="userSpaceOnUse" x1="708.0" y1="989.9" x2="-114.4" y2="1015.2"/>
<linearGradient id="g276" href="#stL" gradientUnits="userSpaceOnUse" x1="347.4" y1="635.5" x2="322.7" y2="1416.9"/>
<linearGradient id="g277" href="#stL" gradientUnits="userSpaceOnUse" x1="192.9" y1="1261.2" x2="700.5" y2="512.7"/>
<linearGradient id="g278" href="#stL" gradientUnits="userSpaceOnUse" x1="209.3" y1="1259.8" x2="659.6" y2="501.3"/>
<linearGradient id="g279" href="#stL" gradientUnits="userSpaceOnUse" x1="315.2" y1="542.6" x2="284.7" y2="1622.2"/>
<linearGradient id="g280" href="#stL" gradientUnits="userSpaceOnUse" x1="595.4" y1="1242.8" x2="-18.3" y2="834.1"/>
<linearGradient id="g281" href="#stL" gradientUnits="userSpaceOnUse" x1="455.4" y1="1057.3" x2="278.8" y2="901.8"/>
<linearGradient id="g282" href="#stL" gradientUnits="userSpaceOnUse" x1="174.0" y1="720.1" x2="653.5" y2="1316.6"/>
<linearGradient id="g283" href="#stL" gradientUnits="userSpaceOnUse" x1="446.6" y1="1326.5" x2="477.1" y2="442.5"/>
<linearGradient id="g284" href="#stL" gradientUnits="userSpaceOnUse" x1="513.2" y1="1198.7" x2="398.5" y2="589.2"/>
<linearGradient id="g285" href="#stL" gradientUnits="userSpaceOnUse" x1="740.7" y1="914.9" x2="-148.1" y2="1213.1"/>
<linearGradient id="g286" href="#stL" gradientUnits="userSpaceOnUse" x1="682.7" y1="1024.9" x2="-80.9" y2="1052.7"/>
<linearGradient id="g287" href="#stL" gradientUnits="userSpaceOnUse" x1="266.2" y1="872.7" x2="624.3" y2="1114.7"/>
<linearGradient id="g288" href="#stL" gradientUnits="userSpaceOnUse" x1="144.6" y1="1585.3" x2="800.0" y2="103.3"/>
<linearGradient id="g289" href="#stL" gradientUnits="userSpaceOnUse" x1="-137.2" y1="797.4" x2="1208.4" y2="1017.1"/>
<linearGradient id="g290" href="#stL" gradientUnits="userSpaceOnUse" x1="588.0" y1="1023.4" x2="410.1" y2="748.5"/>
<linearGradient id="g291" href="#stL" gradientUnits="userSpaceOnUse" x1="263.5" y1="770.1" x2="361.4" y2="1430.6"/>
<linearGradient id="g292" href="#stL" gradientUnits="userSpaceOnUse" x1="367.9" y1="1160.8" x2="241.2" y2="1001.0"/>
<linearGradient id="g293" href="#stL" gradientUnits="userSpaceOnUse" x1="245.8" y1="883.2" x2="540.3" y2="1214.3"/>
<linearGradient id="g294" href="#stL" gradientUnits="userSpaceOnUse" x1="279.3" y1="899.6" x2="518.2" y2="1181.2"/>
<linearGradient id="g295" href="#stL" gradientUnits="userSpaceOnUse" x1="166.0" y1="678.2" x2="801.1" y2="1262.3"/>
<linearGradient id="g296" href="#stL" gradientUnits="userSpaceOnUse" x1="-319.6" y1="408.9" x2="1437.8" y2="1408.3"/>
<linearGradient id="g297" href="#stL" gradientUnits="userSpaceOnUse" x1="452.1" y1="2494.2" x2="641.5" y2="-779.8"/>
<linearGradient id="g298" href="#stL" gradientUnits="userSpaceOnUse" x1="266.5" y1="942.3" x2="438.4" y2="1209.5"/>
<linearGradient id="g299" href="#stL" gradientUnits="userSpaceOnUse" x1="638.9" y1="-745.9" x2="214.7" y2="2859.8"/>
<linearGradient id="g300" href="#stL" gradientUnits="userSpaceOnUse" x1="176.1" y1="461.2" x2="692.5" y2="1602.6"/>
<linearGradient id="g301" href="#stL" gradientUnits="userSpaceOnUse" x1="-443.0" y1="488.0" x2="1489.1" y2="1467.3"/>
<linearGradient id="g302" href="#stL" gradientUnits="userSpaceOnUse" x1="-364.4" y1="472.5" x2="1428.1" y2="1443.5"/>
<linearGradient id="g303" href="#stL" gradientUnits="userSpaceOnUse" x1="-15.9" y1="343.5" x2="970.6" y2="1704.8"/></defs>
<path d="M371.8 923.8L415.0 889.5L451.8 854.3z" fill="url(#g269)" stroke-width="0" stroke="url(#g269)"/>
<path d="M371.8 923.8L451.8 854.3L411.0 887.0z" fill="url(#g270)" stroke-width="0" stroke="url(#g270)"/>
<path d="M334.5 967.5L377.5 949.3L415.0 889.5z" fill="url(#g271)" stroke-width="0" stroke="url(#g271)"/>
<path d="M334.5 967.5L415.0 889.5L371.8 923.8z" fill="url(#g272)" stroke-width="0" stroke="url(#g272)"/>
<path d="M415.0 889.5L456.8 893.8L495.8 831.8z" fill="url(#g273)" stroke-width="0" stroke="url(#g273)"/>
<path d="M415.0 889.5L495.8 831.8L451.8 854.3z" fill="url(#g274)" stroke-width="0" stroke="url(#g274)"/>
<path d="M297.5 1025.0L338.8 1029.5L377.5 949.3z" fill="url(#g275)" stroke-width="0" stroke="url(#g275)"/>
<path d="M297.5 1025.0L377.5 949.3L334.5 967.5z" fill="url(#g276)" stroke-width="0" stroke="url(#g276)"/>
<path d="M377.5 949.3L419.5 945.0L456.8 893.8z" fill="url(#g277)" stroke-width="0" stroke="url(#g277)"/>
<path d="M377.5 949.3L456.8 893.8L415.0 889.5z" fill="url(#g278)" stroke-width="0" stroke="url(#g278)"/>
<path d="M260.0 1081.3L302.5 1082.5L338.8 1029.5z" fill="url(#g279)" stroke-width="0" stroke="url(#g279)"/>
<path d="M260.0 1081.3L338.8 1029.5L297.5 1025.0z" fill="url(#g280)" stroke-width="0" stroke="url(#g280)"/>
<path d="M338.8 1029.5L383.6 1000.0L419.5 945.0z" fill="url(#g281)" stroke-width="0" stroke="url(#g281)"/>
<path d="M338.8 1029.5L419.5 945.0L377.5 949.3z" fill="url(#g282)" stroke-width="0" stroke="url(#g282)"/>
<path d="M419.5 945.0L463.0 928.8L499.3 885.8z" fill="url(#g283)" stroke-width="0" stroke="url(#g283)"/>
<path d="M419.5 945.0L499.3 885.8L456.8 893.8z" fill="url(#g284)" stroke-width="0" stroke="url(#g284)"/>
<path d="M302.5 1082.5L345.0 1061.8L383.6 1000.0z" fill="url(#g285)" stroke-width="0" stroke="url(#g285)"/>
<path d="M302.5 1082.5L383.6 1000.0L338.8 1029.5z" fill="url(#g286)" stroke-width="0" stroke="url(#g286)"/>
<path d="M383.6 1000.0L424.6 1008.8L463.0 928.8z" fill="url(#g287)" stroke-width="0" stroke="url(#g287)"/>
<path d="M383.6 1000.0L463.0 928.8L419.5 945.0z" fill="url(#g288)" stroke-width="0" stroke="url(#g288)"/>
<path d="M463.0 928.8L505.8 920.5L543.8 857.0z" fill="url(#g289)" stroke-width="0" stroke="url(#g289)"/>
<path d="M463.0 928.8L543.8 857.0L499.3 885.8z" fill="url(#g290)" stroke-width="0" stroke="url(#g290)"/>
<path d="M272.5 1106.3L315.0 1100.0L345.0 1061.8z" fill="url(#g291)" stroke-width="0" stroke="url(#g291)"/>
<path d="M272.5 1106.3L345.0 1061.8L302.5 1082.5z" fill="url(#g292)" stroke-width="0" stroke="url(#g292)"/>
<path d="M345.0 1061.8L388.8 1052.5L424.6 1008.8z" fill="url(#g293)" stroke-width="0" stroke="url(#g293)"/>
<path d="M345.0 1061.8L424.6 1008.8L383.6 1000.0z" fill="url(#g294)" stroke-width="0" stroke="url(#g294)"/>
<path d="M424.6 1008.8L468.8 988.8L505.8 920.5z" fill="#000" fill-opacity="0.040" stroke="none"/>
<path d="M424.6 1008.8L505.8 920.5L463.0 928.8z" fill="url(#g295)" stroke-width="0" stroke="url(#g295)"/>
<path d="M505.8 920.5L549.3 925.8L587.0 859.5z" fill="url(#g296)" stroke-width="0" stroke="url(#g296)"/>
<path d="M505.8 920.5L587.0 859.5L543.8 857.0z" fill="url(#g297)" stroke-width="0" stroke="url(#g297)"/>
<path d="M315.0 1100.0L388.8 1052.5L345.0 1061.8z" fill="url(#g298)" stroke-width="0" stroke="url(#g298)"/>
<path d="M388.8 1052.5L431.3 1057.5L468.8 988.8z" fill="url(#g299)" stroke-width="0" stroke="url(#g299)"/>
<path d="M388.8 1052.5L468.8 988.8L424.6 1008.8z" fill="url(#g300)" stroke-width="0" stroke="url(#g300)"/>
<path d="M468.8 988.8L512.3 998.8L549.3 925.8z" fill="url(#g301)" stroke-width="0" stroke="url(#g301)"/>
<path d="M468.8 988.8L549.3 925.8L505.8 920.5z" fill="url(#g302)" stroke-width="0" stroke="url(#g302)"/>
<path d="M431.3 1057.5L512.3 998.8L468.8 988.8z" fill="url(#g303)" stroke-width="0" stroke="url(#g303)"/></g>
<g filter="url(#bl2)"><line x1="136.5" y1="848.2" x2="448.0" y2="968.6" stroke="#555" stroke-width="1.3"/>
<line x1="448.0" y1="968.6" x2="719.0" y2="832.3" stroke="#555" stroke-width="1.3"/>
<line x1="448.0" y1="968.6" x2="446.5" y2="1269.8" stroke="#555" stroke-width="1.3"/>
<line x1="134.5" y1="1145.3" x2="446.5" y2="1269.8" stroke="#555" stroke-width="1.3"/>
<line x1="446.5" y1="1269.8" x2="717.5" y2="1131.5" stroke="#555" stroke-width="1.3"/></g>
<defs><linearGradient id="ug" gradientUnits="userSpaceOnUse" x1="235" y1="1125" x2="330" y2="1100"><stop offset="0" stop-color="#00021c"/><stop offset="0.6" stop-color="#000a2c"/><stop offset="1" stop-color="#00344e"/></linearGradient></defs>
<path filter="url(#bl2)" d="M229 1121.5L272.5 1106.3L315 1100L331 1105.5L308.8 1127L266.3 1131.3z" fill="url(#ug)"/>
<g filter="url(#bl2)"><ellipse cx="187.0" cy="1146.3" rx="9.2" ry="8.2" fill="url(#dC)"/>
<ellipse cx="229.0" cy="1121.5" rx="9.2" ry="8.2" fill="url(#dC)"/>
<ellipse cx="266.3" cy="1131.3" rx="9.2" ry="8.2" fill="url(#dC)"/>
<ellipse cx="308.8" cy="1127.0" rx="9.2" ry="8.2" fill="url(#dC)"/>
<ellipse cx="357.5" cy="1107.5" rx="9.2" ry="8.2" fill="url(#dC)"/>
<ellipse cx="400.0" cy="1125.5" rx="9.2" ry="8.2" fill="url(#dC)"/>
<ellipse cx="442.7" cy="1163.3" rx="9.2" ry="8.2" fill="url(#dC)"/>
<ellipse cx="223.0" cy="1119.0" rx="9.2" ry="8.2" fill="url(#dC)"/>
<ellipse cx="272.5" cy="1106.3" rx="9.2" ry="8.2" fill="url(#dC)"/>
<ellipse cx="315.0" cy="1100.0" rx="9.2" ry="8.2" fill="url(#dC)"/>
<ellipse cx="352.0" cy="1080.0" rx="9.2" ry="8.2" fill="url(#dC)"/>
<ellipse cx="395.5" cy="1085.0" rx="9.2" ry="8.2" fill="url(#dC)"/>
<ellipse cx="438.0" cy="1103.8" rx="9.2" ry="8.2" fill="url(#dC)"/>
<ellipse cx="480.0" cy="1132.0" rx="9.2" ry="8.2" fill="url(#dC)"/>
<ellipse transform="translate(302.5 1082.5) rotate(-35)" rx="9.2" ry="6.6" fill="url(#dC)"/>
<ellipse transform="translate(345.0 1061.8) rotate(-35)" rx="9.2" ry="6.6" fill="url(#dC)"/>
<ellipse transform="translate(388.8 1052.5) rotate(-35)" rx="9.2" ry="6.6" fill="url(#dC)"/>
<ellipse cx="431.3" cy="1057.5" rx="9.2" ry="8.2" fill="url(#dC)"/>
<ellipse cx="475.0" cy="1063.8" rx="9.2" ry="8.2" fill="url(#dC)"/>
<ellipse cx="517.5" cy="1092.5" rx="9.2" ry="8.2" fill="url(#dC)"/>
<ellipse transform="translate(338.8 1029.5) rotate(-35)" rx="9.2" ry="6.6" fill="url(#dC)"/>
<ellipse transform="translate(383.6 1000.0) rotate(-35)" rx="9.2" ry="6.6" fill="url(#dC)"/>
<ellipse transform="translate(424.6 1008.8) rotate(-35)" rx="9.2" ry="6.6" fill="url(#dC)"/>
<ellipse cx="468.8" cy="988.8" rx="9.2" ry="8.2" fill="url(#dC)"/>
<ellipse cx="512.3" cy="998.8" rx="9.2" ry="8.2" fill="url(#dC)"/>
<ellipse cx="555.0" cy="1036.0" rx="9.2" ry="8.2" fill="url(#dC)"/>
<ellipse cx="377.5" cy="949.3" rx="9.2" ry="8.2" fill="url(#dC)"/>
<ellipse cx="419.5" cy="945.0" rx="9.2" ry="8.2" fill="url(#dC)"/>
<ellipse cx="463.0" cy="928.8" rx="9.2" ry="8.2" fill="url(#dC)"/>
<ellipse cx="505.8" cy="920.5" rx="9.2" ry="8.2" fill="url(#dC)"/>
<ellipse cx="549.3" cy="925.8" rx="9.2" ry="8.2" fill="url(#dC)"/>
<ellipse cx="592.3" cy="962.7" rx="9.2" ry="8.2" fill="url(#dC)"/>
<ellipse cx="415.0" cy="889.5" rx="9.2" ry="8.2" fill="url(#dC)"/>
<ellipse transform="translate(456.8 893.8) rotate(-35)" rx="9.2" ry="6.6" fill="url(#dC)"/>
<ellipse cx="499.3" cy="885.8" rx="9.2" ry="8.2" fill="url(#dC)"/>
<ellipse cx="543.8" cy="857.0" rx="9.2" ry="8.2" fill="url(#dC)"/>
<ellipse cx="587.0" cy="859.5" rx="9.2" ry="8.2" fill="url(#dC)"/>
<ellipse cx="630.0" cy="892.0" rx="9.2" ry="8.2" fill="url(#dC)"/>
<ellipse cx="581.3" cy="819.3" rx="9.2" ry="8.2" fill="url(#dC)"/>
<ellipse cx="624.3" cy="816.3" rx="9.2" ry="8.2" fill="url(#dC)"/>
<ellipse cx="666.8" cy="841.3" rx="9.2" ry="8.2" fill="url(#dC)"/></g>
</g>
<g filter="url(#bl2)"><text transform="translate(226.5 192.0) scale(1.580 1.000)" font-family="&quot;Liberation Sans&quot;, sans-serif" font-size="16.5" text-anchor="end" dominant-baseline="central" fill="#222" font-weight="normal" >0</text>
<line x1="236.6" y1="192.0" x2="241.6" y2="192.0" stroke="#777" stroke-width="1.1"/>
<text transform="translate(226.5 257.1) scale(1.580 1.000)" font-family="&quot;Liberation Sans&quot;, sans-serif" font-size="16.5" text-anchor="end" dominant-baseline="central" fill="#222" font-weight="normal" >-10</text>
<line x1="236.6" y1="257.1" x2="241.6" y2="257.1" stroke="#777" stroke-width="1.1"/>
<text transform="translate(226.5 322.8) scale(1.580 1.000)" font-family="&quot;Liberation Sans&quot;, sans-serif" font-size="16.5" text-anchor="end" dominant-baseline="central" fill="#222" font-weight="normal" >-20</text>
<line x1="236.6" y1="322.8" x2="241.6" y2="322.8" stroke="#777" stroke-width="1.1"/>
<text transform="translate(226.5 389.0) scale(1.580 1.000)" font-family="&quot;Liberation Sans&quot;, sans-serif" font-size="16.5" text-anchor="end" dominant-baseline="central" fill="#222" font-weight="normal" >-30</text>
<line x1="236.6" y1="389.0" x2="241.6" y2="389.0" stroke="#777" stroke-width="1.1"/>
<text transform="translate(226.5 454.7) scale(1.580 1.000)" font-family="&quot;Liberation Sans&quot;, sans-serif" font-size="16.5" text-anchor="end" dominant-baseline="central" fill="#222" font-weight="normal" >-40</text>
<line x1="236.6" y1="454.7" x2="241.6" y2="454.7" stroke="#777" stroke-width="1.1"/>
<text transform="translate(949.5 189.3) scale(1.550 1.000)" font-family="&quot;Liberation Sans&quot;, sans-serif" font-size="16.5" text-anchor="end" dominant-baseline="central" fill="#222" font-weight="normal" >0</text>
<line x1="961.7" y1="189.3" x2="966.7" y2="189.3" stroke="#777" stroke-width="1.1"/>
<text transform="translate(949.5 260.7) scale(1.550 1.000)" font-family="&quot;Liberation Sans&quot;, sans-serif" font-size="16.5" text-anchor="end" dominant-baseline="central" fill="#222" font-weight="normal" >-10</text>
<line x1="961.7" y1="260.7" x2="966.7" y2="260.7" stroke="#777" stroke-width="1.1"/>
<text transform="translate(949.5 331.0) scale(1.550 1.000)" font-family="&quot;Liberation Sans&quot;, sans-serif" font-size="16.5" text-anchor="end" dominant-baseline="central" fill="#222" font-weight="normal" >-20</text>
<line x1="961.7" y1="331.0" x2="966.7" y2="331.0" stroke="#777" stroke-width="1.1"/>
<text transform="translate(949.5 401.6) scale(1.550 1.000)" font-family="&quot;Liberation Sans&quot;, sans-serif" font-size="16.5" text-anchor="end" dominant-baseline="central" fill="#222" font-weight="normal" >-30</text>
<line x1="961.7" y1="401.6" x2="966.7" y2="401.6" stroke="#777" stroke-width="1.1"/>
<text transform="translate(949.5 471.9) scale(1.550 1.000)" font-family="&quot;Liberation Sans&quot;, sans-serif" font-size="16.5" text-anchor="end" dominant-baseline="central" fill="#222" font-weight="normal" >-40</text>
<line x1="961.7" y1="471.9" x2="966.7" y2="471.9" stroke="#777" stroke-width="1.1"/>
<text transform="translate(119.5 856.9) scale(1.580 1.000)" font-family="&quot;Liberation Sans&quot;, sans-serif" font-size="16.5" text-anchor="end" dominant-baseline="central" fill="#222" font-weight="normal" >20</text>
<line x1="131.0" y1="856.9" x2="136.0" y2="856.9" stroke="#777" stroke-width="1.1"/>
<text transform="translate(119.5 898.0) scale(1.580 1.000)" font-family="&quot;Liberation Sans&quot;, sans-serif" font-size="16.5" text-anchor="end" dominant-baseline="central" fill="#222" font-weight="normal" >15</text>
<line x1="131.0" y1="898.0" x2="136.0" y2="898.0" stroke="#777" stroke-width="1.1"/>
<text transform="translate(119.5 939.3) scale(1.580 1.000)" font-family="&quot;Liberation Sans&quot;, sans-serif" font-size="16.5" text-anchor="end" dominant-baseline="central" fill="#222" font-weight="normal" >10</text>
<line x1="131.0" y1="939.3" x2="136.0" y2="939.3" stroke="#777" stroke-width="1.1"/>
<text transform="translate(119.5 980.6) scale(1.580 1.000)" font-family="&quot;Liberation Sans&quot;, sans-serif" font-size="16.5" text-anchor="end" dominant-baseline="central" fill="#222" font-weight="normal" >5</text>
<line x1="131.0" y1="980.6" x2="136.0" y2="980.6" stroke="#777" stroke-width="1.1"/>
<text transform="translate(119.5 1021.9) scale(1.580 1.000)" font-family="&quot;Liberation Sans&quot;, sans-serif" font-size="16.5" text-anchor="end" dominant-baseline="central" fill="#222" font-weight="normal" >0</text>
<line x1="131.0" y1="1021.9" x2="136.0" y2="1021.9" stroke="#777" stroke-width="1.1"/>
<text transform="translate(119.5 1062.1) scale(1.580 1.000)" font-family="&quot;Liberation Sans&quot;, sans-serif" font-size="16.5" text-anchor="end" dominant-baseline="central" fill="#222" font-weight="normal" >-5</text>
<line x1="131.0" y1="1062.1" x2="136.0" y2="1062.1" stroke="#777" stroke-width="1.1"/>
<text transform="translate(119.5 1103.2) scale(1.580 1.000)" font-family="&quot;Liberation Sans&quot;, sans-serif" font-size="16.5" text-anchor="end" dominant-baseline="central" fill="#222" font-weight="normal" >-10</text>
<line x1="131.0" y1="1103.2" x2="136.0" y2="1103.2" stroke="#777" stroke-width="1.1"/>
<text transform="translate(119.5 1144.8) scale(1.580 1.000)" font-family="&quot;Liberation Sans&quot;, sans-serif" font-size="16.5" text-anchor="end" dominant-baseline="central" fill="#222" font-weight="normal" >-15</text>
<line x1="131.0" y1="1144.8" x2="136.0" y2="1144.8" stroke="#777" stroke-width="1.1"/>
<text transform="translate(173.1 343.4) rotate(-90) scale(0.680 1)" font-size="31" text-anchor="middle" y="7.8" fill="#222">Relative energy (kJ/mol)</text>
<text transform="translate(898.3 334.5) rotate(-90) scale(0.720 1)" font-size="28" text-anchor="middle" y="7.0" fill="#222">Relative energy (kJ/mol)</text>
<text transform="translate(65.3 994.5) rotate(-90) scale(0.673 1)" font-size="30" text-anchor="middle" y="7.5" fill="#222">Relative energy (kJ/mol)</text>
<text transform="translate(304.8 544.3) rotate(17.0) skewX(12.0) scale(1.350 1.000)" font-family="&quot;Liberation Sans&quot;, sans-serif" font-size="14.5" text-anchor="middle" dominant-baseline="central" fill="#222" font-weight="normal" >-40</text>
<text transform="translate(358.9 560.2) rotate(17.0) skewX(12.0) scale(1.350 1.000)" font-family="&quot;Liberation Sans&quot;, sans-serif" font-size="14.5" text-anchor="middle" dominant-baseline="central" fill="#222" font-weight="normal" >-60</text>
<text transform="translate(412.6 576.9) rotate(17.0) skewX(12.0) scale(1.350 1.000)" font-family="&quot;Liberation Sans&quot;, sans-serif" font-size="14.5" text-anchor="middle" dominant-baseline="central" fill="#222" font-weight="normal" >-80</text>
<text transform="translate(472.1 594.1) rotate(17.0) skewX(12.0) scale(1.350 1.000)" font-family="&quot;Liberation Sans&quot;, sans-serif" font-size="14.5" text-anchor="middle" dominant-baseline="central" fill="#222" font-weight="normal" >-100</text>
<text transform="translate(526.4 610.5) rotate(17.0) skewX(12.0) scale(1.350 1.000)" font-family="&quot;Liberation Sans&quot;, sans-serif" font-size="14.5" text-anchor="middle" dominant-baseline="central" fill="#222" font-weight="normal" >-120</text>
<text transform="translate(766.0 528.0) rotate(-20.4) skewX(-20.0) scale(1.270 1.000)" font-family="&quot;Liberation Sans&quot;, sans-serif" font-size="14.5" text-anchor="middle" dominant-baseline="central" fill="#222" font-weight="normal" >-40</text>
<text transform="translate(717.0 546.2) rotate(-20.4) skewX(-20.0) scale(1.270 1.000)" font-family="&quot;Liberation Sans&quot;, sans-serif" font-size="14.5" text-anchor="middle" dominant-baseline="central" fill="#222" font-weight="normal" >-60</text>
<text transform="translate(668.5 564.0) rotate(-20.4) skewX(-20.0) scale(1.270 1.000)" font-family="&quot;Liberation Sans&quot;, sans-serif" font-size="14.5" text-anchor="middle" dominant-baseline="central" fill="#222" font-weight="normal" >-80</text>
<text transform="translate(625.0 580.7) rotate(-20.4) skewX(-20.0) scale(1.270 1.000)" font-family="&quot;Liberation Sans&quot;, sans-serif" font-size="14.5" text-anchor="middle" dominant-baseline="central" fill="#222" font-weight="normal" >-100</text>
<text transform="translate(576.0 598.0) rotate(-20.4) skewX(-20.0) scale(1.270 1.000)" font-family="&quot;Liberation Sans&quot;, sans-serif" font-size="14.5" text-anchor="middle" dominant-baseline="central" fill="#222" font-weight="normal" >-120</text>
<text transform="translate(1023.8 535.5) rotate(23.4) skewX(14.0) scale(1.300 1.000)" font-family="&quot;Liberation Sans&quot;, sans-serif" font-size="14.5" text-anchor="middle" dominant-baseline="central" fill="#222" font-weight="normal" >-40</text>
<text transform="translate(1072.5 556.3) rotate(23.4) skewX(14.0) scale(1.300 1.000)" font-family="&quot;Liberation Sans&quot;, sans-serif" font-size="14.5" text-anchor="middle" dominant-baseline="central" fill="#222" font-weight="normal" >-60</text>
<text transform="translate(1121.3 577.0) rotate(23.4) skewX(14.0) scale(1.300 1.000)" font-family="&quot;Liberation Sans&quot;, sans-serif" font-size="14.5" text-anchor="middle" dominant-baseline="central" fill="#222" font-weight="normal" >-80</text>
<text transform="translate(1173.8 600.0) rotate(23.4) skewX(14.0) scale(1.300 1.000)" font-family="&quot;Liberation Sans&quot;, sans-serif" font-size="14.5" text-anchor="middle" dominant-baseline="central" fill="#222" font-weight="normal" >-100</text>
<text transform="translate(1222.5 621.3) rotate(23.4) skewX(14.0) scale(1.300 1.000)" font-family="&quot;Liberation Sans&quot;, sans-serif" font-size="14.5" text-anchor="middle" dominant-baseline="central" fill="#222" font-weight="normal" >-120</text>
<text transform="translate(1486.5 535.0) rotate(-19.7) skewX(-20.0) scale(1.300 1.000)" font-family="&quot;Liberation Sans&quot;, sans-serif" font-size="14.5" text-anchor="middle" dominant-baseline="central" fill="#222" font-weight="normal" >-40</text>
<text transform="translate(1431.5 554.0) rotate(-19.7) skewX(-20.0) scale(1.300 1.000)" font-family="&quot;Liberation Sans&quot;, sans-serif" font-size="14.5" text-anchor="middle" dominant-baseline="central" fill="#222" font-weight="normal" >-60</text>
<text transform="translate(1377.5 572.5) rotate(-19.7) skewX(-20.0) scale(1.300 1.000)" font-family="&quot;Liberation Sans&quot;, sans-serif" font-size="14.5" text-anchor="middle" dominant-baseline="central" fill="#222" font-weight="normal" >-80</text>
<text transform="translate(1330.0 590.0) rotate(-19.7) skewX(-20.0) scale(1.300 1.000)" font-family="&quot;Liberation Sans&quot;, sans-serif" font-size="14.5" text-anchor="middle" dominant-baseline="central" fill="#222" font-weight="normal" >-100</text>
<text transform="translate(1275.5 607.5) rotate(-19.7) skewX(-20.0) scale(1.300 1.000)" font-family="&quot;Liberation Sans&quot;, sans-serif" font-size="14.5" text-anchor="middle" dominant-baseline="central" fill="#222" font-weight="normal" >-120</text>
<text transform="translate(200.5 1195.5) rotate(21.8) skewX(12.0) scale(1.350 1.000)" font-family="&quot;Liberation Sans&quot;, sans-serif" font-size="14.5" text-anchor="middle" dominant-baseline="central" fill="#222" font-weight="normal" >-40</text>
<text transform="translate(258.7 1217.7) rotate(21.8) skewX(12.0) scale(1.350 1.000)" font-family="&quot;Liberation Sans&quot;, sans-serif" font-size="14.5" text-anchor="middle" dominant-baseline="central" fill="#222" font-weight="normal" >-60</text>
<text transform="translate(314.5 1239.8) rotate(21.8) skewX(12.0) scale(1.350 1.000)" font-family="&quot;Liberation Sans&quot;, sans-serif" font-size="14.5" text-anchor="middle" dominant-baseline="central" fill="#222" font-weight="normal" >-80</text>
<text transform="translate(376.2 1263.9) rotate(21.8) skewX(12.0) scale(1.350 1.000)" font-family="&quot;Liberation Sans&quot;, sans-serif" font-size="14.5" text-anchor="middle" dominant-baseline="central" fill="#222" font-weight="normal" >-100</text>
<text transform="translate(431.5 1284.0) rotate(21.8) skewX(12.0) scale(1.350 1.000)" font-family="&quot;Liberation Sans&quot;, sans-serif" font-size="14.5" text-anchor="middle" dominant-baseline="central" fill="#222" font-weight="normal" >-120</text>
<text transform="translate(677.0 1170.0) rotate(-27.1) skewX(-22.0) scale(1.250 1.000)" font-family="&quot;Liberation Sans&quot;, sans-serif" font-size="14.5" text-anchor="middle" dominant-baseline="central" fill="#222" font-weight="normal" >-40</text>
<text transform="translate(629.0 1196.0) rotate(-27.1) skewX(-22.0) scale(1.250 1.000)" font-family="&quot;Liberation Sans&quot;, sans-serif" font-size="14.5" text-anchor="middle" dominant-baseline="central" fill="#222" font-weight="normal" >-60</text>
<text transform="translate(579.5 1221.6) rotate(-27.1) skewX(-22.0) scale(1.250 1.000)" font-family="&quot;Liberation Sans&quot;, sans-serif" font-size="14.5" text-anchor="middle" dominant-baseline="central" fill="#222" font-weight="normal" >-80</text>
<text transform="translate(535.0 1248.0) rotate(-27.1) skewX(-22.0) scale(1.250 1.000)" font-family="&quot;Liberation Sans&quot;, sans-serif" font-size="14.5" text-anchor="middle" dominant-baseline="central" fill="#222" font-weight="normal" >-100</text>
<text transform="translate(486.0 1274.0) rotate(-27.1) skewX(-22.0) scale(1.250 1.000)" font-family="&quot;Liberation Sans&quot;, sans-serif" font-size="14.5" text-anchor="middle" dominant-baseline="central" fill="#222" font-weight="normal" >-120</text>
<text transform="translate(401.7 626.0)" font-family="&quot;Liberation Serif&quot;, serif" font-size="48" text-anchor="middle" dominant-baseline="alphabetic" fill="#111" font-weight="normal" >&#945;</text>
<text transform="translate(1111.3 624.5)" font-family="&quot;Liberation Serif&quot;, serif" font-size="48" text-anchor="middle" dominant-baseline="alphabetic" fill="#111" font-weight="normal" >&#945;</text>
<text transform="translate(303.8 1285.0)" font-family="&quot;Liberation Serif&quot;, serif" font-size="48" text-anchor="middle" dominant-baseline="alphabetic" fill="#111" font-weight="normal" >&#945;</text>
<text transform="translate(681.6 609.0) rotate(10.0)" font-family="&quot;Liberation Serif&quot;, serif" font-size="40" text-anchor="middle" dominant-baseline="alphabetic" fill="#111" font-weight="normal" >&#950;</text>
<text transform="translate(1393.0 616.5) rotate(10.0)" font-family="&quot;Liberation Serif&quot;, serif" font-size="40" text-anchor="middle" dominant-baseline="alphabetic" fill="#111" font-weight="normal" >&#950;</text>
<text transform="translate(591.3 1262.0) rotate(12.0)" font-family="&quot;Liberation Serif&quot;, serif" font-size="40" text-anchor="middle" dominant-baseline="alphabetic" fill="#111" font-weight="normal" >&#950;</text></g>
<g filter="url(#bl2)" fill="#000" font-family="&quot;Liberation Sans&quot;, sans-serif">
<text transform="translate(123.6 50.3) scale(0.94 1)" font-size="44.5">A</text><text x="845.6" y="51.2" font-size="44.5">B</text><text x="10.3" y="686.6" font-size="51">C</text>
</g>
<rect x="758.5" y="633.9" width="899.2" height="674.6" fill="#000"/>
<defs>
<radialGradient id="sO" cx="0.58" cy="0.4" r="0.72" fx="0.63" fy="0.33"><stop offset="0" stop-color="#ff7060"/><stop offset="0.07" stop-color="#f43a30"/><stop offset="0.3" stop-color="#e62222"/><stop offset="0.6" stop-color="#cc1818"/><stop offset="0.85" stop-color="#a01010"/><stop offset="1" stop-color="#6a0808"/></radialGradient>
<radialGradient id="sP" cx="0.58" cy="0.4" r="0.72" fx="0.63" fy="0.33"><stop offset="0" stop-color="#fff850"/><stop offset="0.07" stop-color="#fcc818"/><stop offset="0.3" stop-color="#f4b00c"/><stop offset="0.6" stop-color="#e8a008"/><stop offset="0.85" stop-color="#b87c04"/><stop offset="1" stop-color="#805400"/></radialGradient>
<radialGradient id="sN" cx="0.58" cy="0.4" r="0.72" fx="0.63" fy="0.33"><stop offset="0" stop-color="#f0f2ff"/><stop offset="0.07" stop-color="#aab4f0"/><stop offset="0.3" stop-color="#8c9adc"/><stop offset="0.6" stop-color="#7c88c8"/><stop offset="0.85" stop-color="#5c68a4"/><stop offset="1" stop-color="#3c4474"/></radialGradient>
<radialGradient id="sC" cx="0.58" cy="0.4" r="0.72" fx="0.63" fy="0.33"><stop offset="0" stop-color="#a8a8a8"/><stop offset="0.1" stop-color="#7e7e7e"/><stop offset="0.35" stop-color="#6e6e6e"/><stop offset="0.65" stop-color="#606060"/><stop offset="0.88" stop-color="#444444"/><stop offset="1" stop-color="#262626"/></radialGradient>
<radialGradient id="sC3" cx="0.58" cy="0.4" r="0.72" fx="0.63" fy="0.33"><stop offset="0" stop-color="#e0e0e0"/><stop offset="0.08" stop-color="#9c9c9c"/><stop offset="0.35" stop-color="#888888"/><stop offset="0.65" stop-color="#787878"/><stop offset="0.88" stop-color="#585858"/><stop offset="1" stop-color="#303030"/></radialGradient>
<radialGradient id="sH" cx="0.58" cy="0.4" r="0.72" fx="0.6" fy="0.36"><stop offset="0" stop-color="#ffffff"/><stop offset="0.35" stop-color="#f8f8f8"/><stop offset="0.6" stop-color="#e6e6e6"/><stop offset="0.8" stop-color="#c4c4c4"/><stop offset="0.93" stop-color="#9a9a9a"/><stop offset="1" stop-color="#707070"/></radialGradient>
<linearGradient id="stW" x1="0" y1="0" x2="0" y2="1"><stop offset="0" stop-color="#6a6a6a"/><stop offset="0.25" stop-color="#d0d0d0"/><stop offset="0.5" stop-color="#ffffff"/><stop offset="0.7" stop-color="#e0e0e0"/><stop offset="1" stop-color="#808080"/></linearGradient>
<linearGradient id="stG" x1="0" y1="0" x2="0" y2="1"><stop offset="0" stop-color="#505050"/><stop offset="0.3" stop-color="#a8a8a8"/><stop offset="0.5" stop-color="#c0c0c0"/><stop offset="0.75" stop-color="#989898"/><stop offset="1" stop-color="#505050"/></linearGradient>
<linearGradient id="stD" x1="0" y1="0" x2="0" y2="1"><stop offset="0" stop-color="#383838"/><stop offset="0.5" stop-color="#808080"/><stop offset="1" stop-color="#383838"/></linearGradient>
</defs>
<g filter="url(#bl2)"><circle cx="1108.8" cy="824.1" r="40.5" fill="url(#sO)"/>
<g transform="translate(1488.0 809.3) rotate(28.78)"><rect x="0.0" y="-7.0" width="92.4" height="14.0" fill="url(#stG)"/></g>
<circle cx="1569.0" cy="853.8" r="32.4" fill="url(#sH)"/>
<g transform="translate(1488.0 809.3) rotate(-132.06)"><rect x="0.0" y="-8.0" width="100.8" height="16.0" fill="url(#stG)"/></g>
<circle cx="1420.5" cy="734.5" r="32.4" fill="url(#sH)"/>
<g transform="translate(1473.1 1068.8) rotate(18.16)"><rect x="0.0" y="-8.5" width="99.5" height="17.0" fill="url(#stG)"/></g>
<circle cx="1567.6" cy="1099.8" r="34.4" fill="url(#sH)"/>
<g transform="translate(1387.5 933.5) rotate(139.96)"><rect x="0.0" y="-6.0" width="61.4" height="12.0" fill="url(#stD)"/></g>
<circle cx="1340.5" cy="973.0" r="31.0" fill="url(#sH)"/>
<g transform="translate(977.1 1099.8) rotate(-158.20)"><rect x="0.0" y="-8.5" width="130.9" height="17.0" fill="url(#stW)"/></g>
<g transform="translate(977.1 1099.8) rotate(86.21)"><rect x="0.0" y="-12.5" width="142.1" height="25.0" fill="url(#stW)"/></g>
<g transform="translate(977.1 1099.8) rotate(-26.38)"><rect x="0.0" y="-9.0" width="176.2" height="18.0" fill="url(#stG)"/></g>
<circle cx="855.6" cy="1051.2" r="40.5" fill="url(#sH)"/>
<circle cx="986.5" cy="1241.6" r="39.0" fill="url(#sH)"/>
<circle cx="977.1" cy="1099.8" r="60.7" fill="url(#sC3)"/>
<g transform="translate(1196.6 847.1) rotate(109.45)"><rect x="0.0" y="-12.0" width="185.0" height="24.0" fill="url(#stW)"/></g>
<circle cx="1135.0" cy="1021.5" r="48.6" fill="url(#sO)"/>
<g transform="translate(1387.5 933.5) rotate(-51.02)"><rect x="0.0" y="-7.0" width="159.8" height="14.0" fill="url(#stW)"/></g>
<g transform="translate(1387.5 933.5) rotate(57.68)"><rect x="0.0" y="-7.5" width="160.1" height="15.0" fill="url(#stW)"/></g>
<circle cx="1196.6" cy="847.1" r="56.7" fill="url(#sP)"/>
<line x1="1120" y1="825.5" x2="1142" y2="837" stroke="#465c66" stroke-width="9"/>
<g transform="translate(1196.6 847.1) rotate(24.35)"><rect x="52.4" y="-11.5" width="157.2" height="23.0" fill="url(#stW)"/></g>
<circle cx="1387.5" cy="933.5" r="42.3" fill="url(#sN)"/>
<circle cx="1488.0" cy="809.3" r="51.0" fill="url(#sC)"/>
<g transform="translate(1488.0 809.3) rotate(-50.36)"><rect x="18.1" y="-7.5" width="64.3" height="15.0" fill="url(#stD)"/></g>
<circle cx="1540.6" cy="745.8" r="35.8" fill="url(#sH)"/>
<g transform="translate(1473.1 1068.8) rotate(129.04)"><rect x="0.0" y="-8.5" width="128.6" height="17.0" fill="url(#stW)"/></g>
<circle cx="1473.1" cy="1068.8" r="55.0" fill="url(#sC)"/>
<circle cx="1392.1" cy="1168.7" r="36.4" fill="url(#sH)"/>
<g transform="translate(1473.1 1068.8) rotate(-33.11)"><rect x="14.8" y="-7.5" width="59.3" height="15.0" fill="url(#stD)"/></g>
<circle cx="1535.2" cy="1028.3" r="35.8" fill="url(#sH)"/>
<line x1="1212.8" y1="813" x2="1243" y2="759" stroke="#8a969c" stroke-width="5" stroke-dasharray="9 5"/>
<line x1="1224.5" y1="815" x2="1254" y2="762" stroke="#78848a" stroke-width="5.5"/>
<circle cx="1268.7" cy="713.4" r="50.0" fill="url(#sO)"/></g>
<g filter="url(#bl2)"><text x="809.8" y="708.6" font-size="45" fill="#fff" font-family="&quot;Liberation Sans&quot;, sans-serif">D</text>
<text x="1160.0" y="782.3" font-size="38" fill="#fff" font-family="&quot;Liberation Sans&quot;, sans-serif">P</text>
<text x="1452.0" y="718.8" font-size="39.5" fill="#fff" font-family="&quot;Liberation Sans&quot;, sans-serif">Me</text>
<text x="1352.5" y="882.2" font-size="39.5" fill="#fff" font-family="&quot;Liberation Sans&quot;, sans-serif">N5&#8217;</text>
<text x="1447.5" y="1001.2" font-size="39.5" fill="#fff" font-family="&quot;Liberation Sans&quot;, sans-serif">C5&#8217;</text>
<text x="948.7" y="1029.6" font-size="39.5" fill="#fff" font-family="&quot;Liberation Sans&quot;, sans-serif">C3&#8217;</text>
<text x="1154.0" y="1102.5" font-size="39.5" fill="#fff" font-family="&quot;Liberation Sans&quot;, sans-serif">O3&#8217;</text>
<text x="1299.0" y="843.0" font-size="50" fill="#fff" font-family="&quot;Liberation Serif&quot;, serif">&#945;</text>
<text x="1090.0" y="934.0" font-size="48" fill="#fff" font-family="&quot;Liberation Serif&quot;, serif">&#950;</text></g>
<g filter="url(#bl2)" fill="none" stroke="#fff" stroke-width="1.6">
<path d="M1281.5 908 C1282 870 1297 853 1309 856 C1327 861 1327 925 1299 943"/>
<path d="M1277 893 L1286.5 894 L1281.5 914z" fill="#fff" stroke="none"/>
<path d="M1219 936 C1200 916 1140 905 1129 924 C1122 940 1150 950 1172 952"/>
<path d="M1170 946 L1189 954.5 L1170 958z" fill="#fff" stroke="none"/>
</g>
</svg></body></html>
